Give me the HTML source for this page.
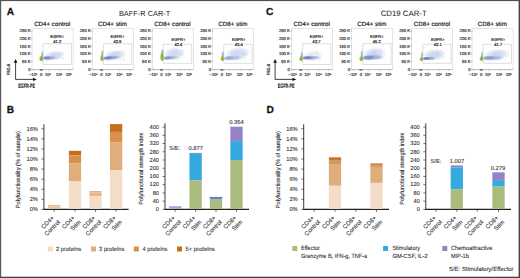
<!DOCTYPE html>
<html><head><meta charset="utf-8"><style>
html,body{margin:0;padding:0;background:#fff;}
body{width:520px;height:278px;overflow:hidden;position:relative;}
svg{position:absolute;left:0;top:0;font-family:"Liberation Sans", sans-serif;text-rendering:geometricPrecision;}
</style></head><body>
<svg width="520" height="278" viewBox="0 0 520 278">
<defs><filter id="blur1" x="-50%" y="-50%" width="200%" height="200%"><feGaussianBlur stdDeviation="0.6"/></filter><filter id="blur2" x="-10%" y="-10%" width="120%" height="120%"><feGaussianBlur stdDeviation="0.35"/></filter><radialGradient id="rg0"><stop offset="0" stop-color="#b6c6e8" stop-opacity="1"/><stop offset="0.55" stop-color="#b6c6e8" stop-opacity="0.75"/><stop offset="1" stop-color="#b6c6e8" stop-opacity="0"/></radialGradient><radialGradient id="rg1"><stop offset="0" stop-color="#5f78c2" stop-opacity="1"/><stop offset="0.55" stop-color="#5f78c2" stop-opacity="0.75"/><stop offset="1" stop-color="#5f78c2" stop-opacity="0"/></radialGradient><radialGradient id="rg2"><stop offset="0" stop-color="#8a98d4" stop-opacity="1"/><stop offset="0.55" stop-color="#8a98d4" stop-opacity="0.75"/><stop offset="1" stop-color="#8a98d4" stop-opacity="0"/></radialGradient><radialGradient id="rg3"><stop offset="0" stop-color="#dfe27a" stop-opacity="1"/><stop offset="0.55" stop-color="#dfe27a" stop-opacity="0.75"/><stop offset="1" stop-color="#dfe27a" stop-opacity="0"/></radialGradient><radialGradient id="rg4"><stop offset="0" stop-color="#dde0f2" stop-opacity="1"/><stop offset="0.55" stop-color="#dde0f2" stop-opacity="0.75"/><stop offset="1" stop-color="#dde0f2" stop-opacity="0"/></radialGradient><radialGradient id="rg5"><stop offset="0" stop-color="#5a6cbc" stop-opacity="1"/><stop offset="0.55" stop-color="#5a6cbc" stop-opacity="0.75"/><stop offset="1" stop-color="#5a6cbc" stop-opacity="0"/></radialGradient><radialGradient id="rg6"><stop offset="0" stop-color="#6a80c4" stop-opacity="1"/><stop offset="0.55" stop-color="#6a80c4" stop-opacity="0.75"/><stop offset="1" stop-color="#6a80c4" stop-opacity="0"/></radialGradient><radialGradient id="rg7"><stop offset="0" stop-color="#7a88cc" stop-opacity="1"/><stop offset="0.55" stop-color="#7a88cc" stop-opacity="0.75"/><stop offset="1" stop-color="#7a88cc" stop-opacity="0"/></radialGradient><radialGradient id="rg8"><stop offset="0" stop-color="#98a0c0" stop-opacity="1"/><stop offset="0.55" stop-color="#98a0c0" stop-opacity="0.75"/><stop offset="1" stop-color="#98a0c0" stop-opacity="0"/></radialGradient><radialGradient id="rg9"><stop offset="0" stop-color="#88a2d4" stop-opacity="1"/><stop offset="0.55" stop-color="#88a2d4" stop-opacity="0.75"/><stop offset="1" stop-color="#88a2d4" stop-opacity="0"/></radialGradient><radialGradient id="rg10"><stop offset="0" stop-color="#7890cc" stop-opacity="1"/><stop offset="0.55" stop-color="#7890cc" stop-opacity="0.75"/><stop offset="1" stop-color="#7890cc" stop-opacity="0"/></radialGradient></defs>
<rect x="0" y="0" width="520" height="278" fill="#fff"/>
<text x="6.8" y="15.35" font-size="10.2" text-anchor="start" fill="#111" stroke="#111" stroke-width="0.25" font-weight="bold">A</text>
<text x="266.0" y="15.3" font-size="10.2" text-anchor="start" fill="#111" stroke="#111" stroke-width="0.25" font-weight="bold">C</text>
<text x="144.6" y="15.6" font-size="7.4" text-anchor="middle" fill="#222">BAFF-R CAR-T</text>
<text x="403.7" y="15.6" font-size="7.8" text-anchor="middle" fill="#222">CD19 CAR-T</text>
<text x="6.7" y="112.8" font-size="10.2" text-anchor="start" fill="#111" stroke="#111" stroke-width="0.25" font-weight="bold">B</text>
<text x="266.5" y="112.8" font-size="10.2" text-anchor="start" fill="#111" stroke="#111" stroke-width="0.25" font-weight="bold">D</text>
<text x="52.3" y="26.1" font-size="6.2" text-anchor="middle" fill="#1a1a1a" stroke="#1a1a1a" stroke-width="0.18">CD4+ control</text>
<rect x="32.00" y="28.70" width="41.099999999999994" height="40.8" fill="none" stroke="#cfcfcf" stroke-width="0.55"/>
<text x="30.5" y="32.3" font-size="4.2" text-anchor="end" fill="#333" stroke="#333" stroke-width="0.18">250 K</text>
<line x1="31.10" y1="30.80" x2="32.50" y2="30.80" stroke="#666" stroke-width="0.45"/>
<text x="30.5" y="39.94" font-size="4.2" text-anchor="end" fill="#333" stroke="#333" stroke-width="0.18">200 K</text>
<line x1="31.10" y1="38.44" x2="32.50" y2="38.44" stroke="#666" stroke-width="0.45"/>
<text x="30.5" y="47.58" font-size="4.2" text-anchor="end" fill="#333" stroke="#333" stroke-width="0.18">150 K</text>
<line x1="31.10" y1="46.08" x2="32.50" y2="46.08" stroke="#666" stroke-width="0.45"/>
<text x="30.5" y="55.22" font-size="4.2" text-anchor="end" fill="#333" stroke="#333" stroke-width="0.18">100 K</text>
<line x1="31.10" y1="53.72" x2="32.50" y2="53.72" stroke="#666" stroke-width="0.45"/>
<text x="30.5" y="62.86" font-size="4.2" text-anchor="end" fill="#333" stroke="#333" stroke-width="0.18">50 K</text>
<line x1="31.10" y1="61.36" x2="32.50" y2="61.36" stroke="#666" stroke-width="0.45"/>
<text x="30.5" y="70.5" font-size="4.2" text-anchor="end" fill="#333" stroke="#333" stroke-width="0.18">0</text>
<line x1="31.10" y1="69.00" x2="32.50" y2="69.00" stroke="#666" stroke-width="0.45"/>
<text x="33.1" y="75.9" font-size="4.2" text-anchor="middle" fill="#333" stroke="#333" stroke-width="0.18">−10<tspan dy="-1.3" font-size="2.4">3</tspan></text>
<text x="41.2" y="75.9" font-size="4.2" text-anchor="middle" fill="#333" stroke="#333" stroke-width="0.18">0</text>
<text x="47.9" y="75.9" font-size="4.2" text-anchor="middle" fill="#333" stroke="#333" stroke-width="0.18">10<tspan dy="-1.3" font-size="2.4">3</tspan></text>
<text x="59.1" y="75.9" font-size="4.2" text-anchor="middle" fill="#333" stroke="#333" stroke-width="0.18">10<tspan dy="-1.3" font-size="2.4">4</tspan></text>
<text x="68.7" y="75.9" font-size="4.2" text-anchor="middle" fill="#333" stroke="#333" stroke-width="0.18">10<tspan dy="-1.3" font-size="2.4">5</tspan></text>
<line x1="32.00" y1="69.60" x2="73.10" y2="69.60" stroke="#b8b8b8" stroke-width="0.9"/>
<line x1="34.00" y1="69.50" x2="34.00" y2="70.80" stroke="#888" stroke-width="0.45"/>
<line x1="48.80" y1="69.50" x2="48.80" y2="70.80" stroke="#888" stroke-width="0.45"/>
<line x1="59.50" y1="69.50" x2="59.50" y2="70.80" stroke="#888" stroke-width="0.45"/>
<line x1="69.30" y1="69.50" x2="69.30" y2="70.80" stroke="#888" stroke-width="0.45"/>
<line x1="39.80" y1="70.00" x2="42.80" y2="70.00" stroke="#222" stroke-width="0.9"/>
<ellipse cx="54.55" cy="55.65" rx="10.75" ry="5.13" fill="url(#rg0)" opacity="0.7" transform="rotate(-7 54.55 55.65)"/>
<g opacity="0.45" filter="url(#blur2)"><circle cx="53.8" cy="55.0" r="0.45" fill="#8a9cd6"/><circle cx="63.8" cy="58.5" r="0.45" fill="#8a9cd6"/><circle cx="46.6" cy="60.2" r="0.45" fill="#a0b4e2"/><circle cx="47.7" cy="60.1" r="0.45" fill="#a4c4cc"/><circle cx="45.9" cy="59.5" r="0.45" fill="#8a9cd6"/><circle cx="62.5" cy="53.3" r="0.45" fill="#a4c4cc"/><circle cx="47.0" cy="58.9" r="0.45" fill="#8a9cd6"/><circle cx="44.6" cy="59.4" r="0.45" fill="#a0b4e2"/><circle cx="53.8" cy="54.3" r="0.45" fill="#98bce6"/><circle cx="60.6" cy="56.8" r="0.45" fill="#8a9cd6"/><circle cx="45.3" cy="58.5" r="0.45" fill="#b0a8dc"/><circle cx="55.7" cy="58.2" r="0.45" fill="#98bce6"/><circle cx="59.6" cy="56.6" r="0.45" fill="#a0b4e2"/><circle cx="48.5" cy="60.0" r="0.45" fill="#98bce6"/><circle cx="50.1" cy="58.2" r="0.45" fill="#98bce6"/><circle cx="63.2" cy="55.6" r="0.45" fill="#a0b4e2"/><circle cx="47.7" cy="58.2" r="0.45" fill="#a0b4e2"/><circle cx="53.0" cy="57.8" r="0.45" fill="#b0a8dc"/><circle cx="58.8" cy="52.6" r="0.45" fill="#b0a8dc"/><circle cx="53.3" cy="56.5" r="0.45" fill="#a0b4e2"/><circle cx="45.2" cy="58.2" r="0.45" fill="#8a9cd6"/><circle cx="45.5" cy="59.4" r="0.45" fill="#98bce6"/><circle cx="49.5" cy="57.3" r="0.45" fill="#a4c4cc"/><circle cx="62.2" cy="58.9" r="0.45" fill="#a0b4e2"/><circle cx="49.3" cy="56.6" r="0.45" fill="#8a9cd6"/><circle cx="60.9" cy="51.9" r="0.45" fill="#a4c4cc"/><circle cx="52.7" cy="57.0" r="0.45" fill="#a4c4cc"/><circle cx="46.4" cy="59.1" r="0.45" fill="#a0b4e2"/><circle cx="57.5" cy="54.2" r="0.45" fill="#a0b4e2"/><circle cx="47.5" cy="60.1" r="0.45" fill="#8a9cd6"/><circle cx="63.4" cy="57.5" r="0.45" fill="#8a9cd6"/><circle cx="55.0" cy="58.1" r="0.45" fill="#8a9cd6"/><circle cx="53.1" cy="59.7" r="0.45" fill="#a0b4e2"/><circle cx="56.9" cy="58.7" r="0.45" fill="#98bce6"/><circle cx="52.6" cy="59.6" r="0.45" fill="#a4c4cc"/><circle cx="63.0" cy="52.2" r="0.45" fill="#a0b4e2"/><circle cx="61.4" cy="52.9" r="0.45" fill="#b0a8dc"/><circle cx="51.2" cy="55.7" r="0.45" fill="#b0a8dc"/><circle cx="51.1" cy="59.0" r="0.45" fill="#8a9cd6"/><circle cx="59.6" cy="54.2" r="0.45" fill="#b0a8dc"/><circle cx="45.7" cy="58.6" r="0.45" fill="#b0a8dc"/><circle cx="52.1" cy="57.9" r="0.45" fill="#a0b4e2"/><circle cx="47.3" cy="58.7" r="0.45" fill="#a0b4e2"/><circle cx="48.9" cy="59.5" r="0.45" fill="#8a9cd6"/><circle cx="59.2" cy="55.3" r="0.45" fill="#a4c4cc"/><circle cx="58.0" cy="58.6" r="0.45" fill="#b0a8dc"/><circle cx="55.7" cy="57.2" r="0.45" fill="#b0a8dc"/><circle cx="62.6" cy="53.8" r="0.45" fill="#8a9cd6"/><circle cx="44.8" cy="59.0" r="0.45" fill="#b0a8dc"/><circle cx="57.3" cy="58.6" r="0.45" fill="#a4c4cc"/><circle cx="44.8" cy="60.0" r="0.45" fill="#a0b4e2"/><circle cx="51.3" cy="59.3" r="0.45" fill="#a4c4cc"/><circle cx="57.4" cy="58.0" r="0.45" fill="#a4c4cc"/><circle cx="62.1" cy="53.9" r="0.45" fill="#a4c4cc"/><circle cx="48.7" cy="59.1" r="0.45" fill="#98bce6"/><circle cx="49.3" cy="60.0" r="0.45" fill="#8a9cd6"/><circle cx="45.7" cy="60.0" r="0.45" fill="#a4c4cc"/><circle cx="62.4" cy="58.9" r="0.45" fill="#8a9cd6"/><circle cx="45.9" cy="59.6" r="0.45" fill="#8a9cd6"/><circle cx="54.9" cy="54.4" r="0.45" fill="#98bce6"/><circle cx="58.3" cy="58.1" r="0.45" fill="#b0a8dc"/><circle cx="46.3" cy="60.1" r="0.45" fill="#b0a8dc"/><circle cx="47.3" cy="59.1" r="0.45" fill="#a4c4cc"/><circle cx="58.9" cy="52.0" r="0.45" fill="#a4c4cc"/><circle cx="51.2" cy="57.9" r="0.45" fill="#a4c4cc"/><circle cx="58.4" cy="57.1" r="0.45" fill="#a4c4cc"/><circle cx="45.4" cy="58.3" r="0.45" fill="#98bce6"/><circle cx="45.6" cy="60.2" r="0.45" fill="#b0a8dc"/><circle cx="52.6" cy="56.3" r="0.45" fill="#8a9cd6"/><circle cx="56.7" cy="58.2" r="0.45" fill="#98bce6"/></g>
<ellipse cx="49.05" cy="57.85" rx="7.67" ry="2.18" fill="url(#rg1)" opacity="0.55"/>
<ellipse cx="46.23" cy="57.95" rx="4.73" ry="1.85" fill="url(#rg1)" opacity="0.8"/>
<ellipse cx="42.30" cy="54.55" rx="1.43" ry="4.02" fill="url(#rg2)" opacity="0.8"/>
<ellipse cx="39.80" cy="58.55" rx="1.4" ry="2.85" fill="url(#rg3)" opacity="0.7"/>
<path d="M41.45 55.20 C43.70 57.77 44.00 60.90 41.45 60.90 C38.90 60.90 39.20 57.77 41.45 55.20 Z" fill="#8ab536" filter="url(#blur1)"/>
<line x1="43.20" y1="43.70" x2="71.50" y2="43.70" stroke="#bdbdbd" stroke-width="0.5"/>
<line x1="43.20" y1="43.70" x2="43.20" y2="64.50" stroke="#bdbdbd" stroke-width="0.5"/>
<line x1="71.50" y1="43.70" x2="71.50" y2="64.50" stroke="#bdbdbd" stroke-width="0.5"/>
<line x1="43.20" y1="64.50" x2="71.50" y2="64.50" stroke="#bdbdbd" stroke-width="0.5"/>
<text x="57.2" y="38.1" font-size="4.1" text-anchor="middle" fill="#222" stroke="#222" stroke-width="0.18">EGFR+</text>
<text x="57.2" y="42.9" font-size="4.1" text-anchor="middle" fill="#222" stroke="#222" stroke-width="0.18">41.2</text>
<text x="311.69999999999993" y="26.1" font-size="6.2" text-anchor="middle" fill="#1a1a1a" stroke="#1a1a1a" stroke-width="0.18">CD4+ control</text>
<rect x="291.40" y="28.70" width="41.099999999999994" height="40.8" fill="none" stroke="#cfcfcf" stroke-width="0.55"/>
<text x="289.9" y="32.3" font-size="4.2" text-anchor="end" fill="#333" stroke="#333" stroke-width="0.18">250 K</text>
<line x1="290.50" y1="30.80" x2="291.90" y2="30.80" stroke="#666" stroke-width="0.45"/>
<text x="289.9" y="39.94" font-size="4.2" text-anchor="end" fill="#333" stroke="#333" stroke-width="0.18">200 K</text>
<line x1="290.50" y1="38.44" x2="291.90" y2="38.44" stroke="#666" stroke-width="0.45"/>
<text x="289.9" y="47.58" font-size="4.2" text-anchor="end" fill="#333" stroke="#333" stroke-width="0.18">150 K</text>
<line x1="290.50" y1="46.08" x2="291.90" y2="46.08" stroke="#666" stroke-width="0.45"/>
<text x="289.9" y="55.22" font-size="4.2" text-anchor="end" fill="#333" stroke="#333" stroke-width="0.18">100 K</text>
<line x1="290.50" y1="53.72" x2="291.90" y2="53.72" stroke="#666" stroke-width="0.45"/>
<text x="289.9" y="62.86" font-size="4.2" text-anchor="end" fill="#333" stroke="#333" stroke-width="0.18">50 K</text>
<line x1="290.50" y1="61.36" x2="291.90" y2="61.36" stroke="#666" stroke-width="0.45"/>
<text x="289.9" y="70.5" font-size="4.2" text-anchor="end" fill="#333" stroke="#333" stroke-width="0.18">0</text>
<line x1="290.50" y1="69.00" x2="291.90" y2="69.00" stroke="#666" stroke-width="0.45"/>
<text x="292.5" y="75.9" font-size="4.2" text-anchor="middle" fill="#333" stroke="#333" stroke-width="0.18">−10<tspan dy="-1.3" font-size="2.4">3</tspan></text>
<text x="300.59999999999997" y="75.9" font-size="4.2" text-anchor="middle" fill="#333" stroke="#333" stroke-width="0.18">0</text>
<text x="307.29999999999995" y="75.9" font-size="4.2" text-anchor="middle" fill="#333" stroke="#333" stroke-width="0.18">10<tspan dy="-1.3" font-size="2.4">3</tspan></text>
<text x="318.5" y="75.9" font-size="4.2" text-anchor="middle" fill="#333" stroke="#333" stroke-width="0.18">10<tspan dy="-1.3" font-size="2.4">4</tspan></text>
<text x="328.09999999999997" y="75.9" font-size="4.2" text-anchor="middle" fill="#333" stroke="#333" stroke-width="0.18">10<tspan dy="-1.3" font-size="2.4">5</tspan></text>
<line x1="291.40" y1="69.60" x2="332.50" y2="69.60" stroke="#b8b8b8" stroke-width="0.9"/>
<line x1="293.40" y1="69.50" x2="293.40" y2="70.80" stroke="#888" stroke-width="0.45"/>
<line x1="308.20" y1="69.50" x2="308.20" y2="70.80" stroke="#888" stroke-width="0.45"/>
<line x1="318.90" y1="69.50" x2="318.90" y2="70.80" stroke="#888" stroke-width="0.45"/>
<line x1="328.70" y1="69.50" x2="328.70" y2="70.80" stroke="#888" stroke-width="0.45"/>
<line x1="299.20" y1="70.00" x2="302.20" y2="70.00" stroke="#222" stroke-width="0.9"/>
<ellipse cx="312.85" cy="55.20" rx="10.42" ry="5.62" fill="url(#rg4)" opacity="0.7" transform="rotate(-7 312.85 55.20)"/>
<g opacity="0.45" filter="url(#blur2)"><circle cx="304.3" cy="59.0" r="0.45" fill="#8a9cd6"/><circle cx="312.1" cy="56.1" r="0.45" fill="#98bce6"/><circle cx="305.5" cy="59.7" r="0.45" fill="#8a9cd6"/><circle cx="317.7" cy="52.6" r="0.45" fill="#98bce6"/><circle cx="308.2" cy="59.1" r="0.45" fill="#8a9cd6"/><circle cx="316.5" cy="52.5" r="0.45" fill="#b0a8dc"/><circle cx="319.8" cy="56.4" r="0.45" fill="#a4c4cc"/><circle cx="317.3" cy="59.4" r="0.45" fill="#a4c4cc"/><circle cx="311.2" cy="56.3" r="0.45" fill="#a0b4e2"/><circle cx="321.5" cy="59.0" r="0.45" fill="#a0b4e2"/><circle cx="311.1" cy="59.3" r="0.45" fill="#b0a8dc"/><circle cx="317.4" cy="57.6" r="0.45" fill="#98bce6"/><circle cx="310.9" cy="57.5" r="0.45" fill="#a0b4e2"/><circle cx="308.7" cy="56.6" r="0.45" fill="#a0b4e2"/><circle cx="309.5" cy="55.8" r="0.45" fill="#b0a8dc"/><circle cx="320.5" cy="56.8" r="0.45" fill="#a0b4e2"/><circle cx="319.9" cy="56.1" r="0.45" fill="#b0a8dc"/><circle cx="307.5" cy="59.9" r="0.45" fill="#b0a8dc"/><circle cx="314.1" cy="60.2" r="0.45" fill="#8a9cd6"/><circle cx="310.8" cy="55.8" r="0.45" fill="#a0b4e2"/><circle cx="318.1" cy="58.5" r="0.45" fill="#a4c4cc"/><circle cx="306.0" cy="60.0" r="0.45" fill="#98bce6"/><circle cx="314.8" cy="56.5" r="0.45" fill="#98bce6"/><circle cx="315.7" cy="53.8" r="0.45" fill="#98bce6"/><circle cx="318.2" cy="59.9" r="0.45" fill="#b0a8dc"/><circle cx="318.0" cy="53.8" r="0.45" fill="#a0b4e2"/><circle cx="304.1" cy="60.0" r="0.45" fill="#98bce6"/><circle cx="319.9" cy="59.1" r="0.45" fill="#a4c4cc"/><circle cx="319.8" cy="60.3" r="0.45" fill="#a0b4e2"/><circle cx="306.9" cy="56.0" r="0.45" fill="#98bce6"/><circle cx="313.3" cy="59.7" r="0.45" fill="#a4c4cc"/><circle cx="303.7" cy="59.0" r="0.45" fill="#98bce6"/><circle cx="304.9" cy="58.7" r="0.45" fill="#8a9cd6"/><circle cx="308.7" cy="60.2" r="0.45" fill="#a0b4e2"/><circle cx="309.0" cy="58.3" r="0.45" fill="#98bce6"/><circle cx="311.8" cy="57.5" r="0.45" fill="#a4c4cc"/><circle cx="312.1" cy="57.0" r="0.45" fill="#a4c4cc"/><circle cx="313.1" cy="60.1" r="0.45" fill="#b0a8dc"/><circle cx="317.9" cy="56.7" r="0.45" fill="#b0a8dc"/><circle cx="312.5" cy="54.7" r="0.45" fill="#b0a8dc"/><circle cx="310.1" cy="58.4" r="0.45" fill="#b0a8dc"/><circle cx="322.2" cy="52.9" r="0.45" fill="#a4c4cc"/><circle cx="303.4" cy="59.6" r="0.45" fill="#8a9cd6"/><circle cx="308.4" cy="56.2" r="0.45" fill="#98bce6"/><circle cx="318.3" cy="57.5" r="0.45" fill="#a0b4e2"/><circle cx="307.0" cy="58.7" r="0.45" fill="#a4c4cc"/><circle cx="305.2" cy="58.3" r="0.45" fill="#8a9cd6"/><circle cx="303.3" cy="59.2" r="0.45" fill="#8a9cd6"/><circle cx="306.0" cy="57.8" r="0.45" fill="#98bce6"/><circle cx="315.3" cy="52.4" r="0.45" fill="#a0b4e2"/><circle cx="322.0" cy="53.2" r="0.45" fill="#98bce6"/><circle cx="318.2" cy="53.3" r="0.45" fill="#a4c4cc"/><circle cx="311.3" cy="57.3" r="0.45" fill="#b0a8dc"/><circle cx="310.6" cy="54.7" r="0.45" fill="#a4c4cc"/><circle cx="320.0" cy="59.1" r="0.45" fill="#a4c4cc"/><circle cx="316.6" cy="55.0" r="0.45" fill="#a4c4cc"/><circle cx="310.2" cy="60.3" r="0.45" fill="#b0a8dc"/><circle cx="308.8" cy="57.0" r="0.45" fill="#8a9cd6"/><circle cx="310.8" cy="57.5" r="0.45" fill="#a4c4cc"/><circle cx="304.2" cy="59.6" r="0.45" fill="#98bce6"/><circle cx="310.2" cy="57.0" r="0.45" fill="#a4c4cc"/><circle cx="305.0" cy="58.7" r="0.45" fill="#b0a8dc"/><circle cx="319.9" cy="60.1" r="0.45" fill="#a0b4e2"/><circle cx="320.6" cy="57.0" r="0.45" fill="#a0b4e2"/><circle cx="305.9" cy="56.7" r="0.45" fill="#98bce6"/><circle cx="311.3" cy="60.2" r="0.45" fill="#b0a8dc"/><circle cx="310.7" cy="59.7" r="0.45" fill="#98bce6"/><circle cx="312.6" cy="56.5" r="0.45" fill="#b0a8dc"/><circle cx="316.4" cy="55.6" r="0.45" fill="#98bce6"/><circle cx="319.1" cy="56.2" r="0.45" fill="#98bce6"/></g>
<ellipse cx="310.80" cy="57.75" rx="10.30" ry="2.30" fill="url(#rg5)" opacity="0.55"/>
<ellipse cx="306.92" cy="57.85" rx="6.18" ry="1.96" fill="url(#rg5)" opacity="0.8"/>
<ellipse cx="301.70" cy="54.95" rx="1.43" ry="4.02" fill="url(#rg2)" opacity="0.8"/>
<ellipse cx="299.90" cy="58.75" rx="1.4" ry="2.65" fill="url(#rg3)" opacity="0.7"/>
<path d="M301.20 55.60 C303.10 57.98 303.40 60.90 301.20 60.90 C299.00 60.90 299.30 57.98 301.20 55.60 Z" fill="#8ab536" filter="url(#blur1)"/>
<line x1="302.60" y1="43.70" x2="330.90" y2="43.70" stroke="#bdbdbd" stroke-width="0.5"/>
<line x1="302.60" y1="43.70" x2="302.60" y2="64.50" stroke="#bdbdbd" stroke-width="0.5"/>
<line x1="330.90" y1="43.70" x2="330.90" y2="64.50" stroke="#bdbdbd" stroke-width="0.5"/>
<line x1="302.60" y1="64.50" x2="330.90" y2="64.50" stroke="#bdbdbd" stroke-width="0.5"/>
<text x="316.59999999999997" y="38.1" font-size="4.1" text-anchor="middle" fill="#222" stroke="#222" stroke-width="0.18">EGFR+</text>
<text x="316.59999999999997" y="42.9" font-size="4.1" text-anchor="middle" fill="#222" stroke="#222" stroke-width="0.18">43.7</text>
<text x="112.5" y="26.1" font-size="6.2" text-anchor="middle" fill="#1a1a1a" stroke="#1a1a1a" stroke-width="0.18">CD4+ stim</text>
<rect x="92.20" y="28.70" width="41.099999999999994" height="40.8" fill="none" stroke="#cfcfcf" stroke-width="0.55"/>
<text x="90.7" y="32.3" font-size="4.2" text-anchor="end" fill="#333" stroke="#333" stroke-width="0.18">250 K</text>
<line x1="91.30" y1="30.80" x2="92.70" y2="30.80" stroke="#666" stroke-width="0.45"/>
<text x="90.7" y="39.94" font-size="4.2" text-anchor="end" fill="#333" stroke="#333" stroke-width="0.18">200 K</text>
<line x1="91.30" y1="38.44" x2="92.70" y2="38.44" stroke="#666" stroke-width="0.45"/>
<text x="90.7" y="47.58" font-size="4.2" text-anchor="end" fill="#333" stroke="#333" stroke-width="0.18">150 K</text>
<line x1="91.30" y1="46.08" x2="92.70" y2="46.08" stroke="#666" stroke-width="0.45"/>
<text x="90.7" y="55.22" font-size="4.2" text-anchor="end" fill="#333" stroke="#333" stroke-width="0.18">100 K</text>
<line x1="91.30" y1="53.72" x2="92.70" y2="53.72" stroke="#666" stroke-width="0.45"/>
<text x="90.7" y="62.86" font-size="4.2" text-anchor="end" fill="#333" stroke="#333" stroke-width="0.18">50 K</text>
<line x1="91.30" y1="61.36" x2="92.70" y2="61.36" stroke="#666" stroke-width="0.45"/>
<text x="90.7" y="70.5" font-size="4.2" text-anchor="end" fill="#333" stroke="#333" stroke-width="0.18">0</text>
<line x1="91.30" y1="69.00" x2="92.70" y2="69.00" stroke="#666" stroke-width="0.45"/>
<text x="93.3" y="75.9" font-size="4.2" text-anchor="middle" fill="#333" stroke="#333" stroke-width="0.18">−10<tspan dy="-1.3" font-size="2.4">3</tspan></text>
<text x="101.4" y="75.9" font-size="4.2" text-anchor="middle" fill="#333" stroke="#333" stroke-width="0.18">0</text>
<text x="108.10000000000001" y="75.9" font-size="4.2" text-anchor="middle" fill="#333" stroke="#333" stroke-width="0.18">10<tspan dy="-1.3" font-size="2.4">3</tspan></text>
<text x="119.30000000000001" y="75.9" font-size="4.2" text-anchor="middle" fill="#333" stroke="#333" stroke-width="0.18">10<tspan dy="-1.3" font-size="2.4">4</tspan></text>
<text x="128.9" y="75.9" font-size="4.2" text-anchor="middle" fill="#333" stroke="#333" stroke-width="0.18">10<tspan dy="-1.3" font-size="2.4">5</tspan></text>
<line x1="92.20" y1="69.60" x2="133.30" y2="69.60" stroke="#b8b8b8" stroke-width="0.9"/>
<line x1="94.20" y1="69.50" x2="94.20" y2="70.80" stroke="#888" stroke-width="0.45"/>
<line x1="109.00" y1="69.50" x2="109.00" y2="70.80" stroke="#888" stroke-width="0.45"/>
<line x1="119.70" y1="69.50" x2="119.70" y2="70.80" stroke="#888" stroke-width="0.45"/>
<line x1="129.50" y1="69.50" x2="129.50" y2="70.80" stroke="#888" stroke-width="0.45"/>
<line x1="100.00" y1="70.00" x2="103.00" y2="70.00" stroke="#222" stroke-width="0.9"/>
<ellipse cx="115.05" cy="55.20" rx="11.18" ry="5.62" fill="url(#rg0)" opacity="0.7" transform="rotate(-7 115.05 55.20)"/>
<g opacity="0.45" filter="url(#blur2)"><circle cx="116.2" cy="53.8" r="0.45" fill="#8a9cd6"/><circle cx="107.1" cy="58.2" r="0.45" fill="#b0a8dc"/><circle cx="104.8" cy="58.0" r="0.45" fill="#98bce6"/><circle cx="107.2" cy="57.9" r="0.45" fill="#a4c4cc"/><circle cx="120.3" cy="59.9" r="0.45" fill="#b0a8dc"/><circle cx="107.9" cy="57.7" r="0.45" fill="#8a9cd6"/><circle cx="104.8" cy="59.5" r="0.45" fill="#8a9cd6"/><circle cx="116.8" cy="53.7" r="0.45" fill="#8a9cd6"/><circle cx="125.2" cy="55.3" r="0.45" fill="#8a9cd6"/><circle cx="108.9" cy="58.2" r="0.45" fill="#98bce6"/><circle cx="120.0" cy="55.3" r="0.45" fill="#a0b4e2"/><circle cx="124.1" cy="60.0" r="0.45" fill="#98bce6"/><circle cx="113.5" cy="58.7" r="0.45" fill="#b0a8dc"/><circle cx="124.3" cy="50.7" r="0.45" fill="#a4c4cc"/><circle cx="111.9" cy="55.4" r="0.45" fill="#a0b4e2"/><circle cx="108.0" cy="60.1" r="0.45" fill="#8a9cd6"/><circle cx="112.9" cy="59.1" r="0.45" fill="#b0a8dc"/><circle cx="120.4" cy="60.4" r="0.45" fill="#98bce6"/><circle cx="104.7" cy="59.5" r="0.45" fill="#8a9cd6"/><circle cx="110.2" cy="55.4" r="0.45" fill="#b0a8dc"/><circle cx="111.1" cy="59.1" r="0.45" fill="#a4c4cc"/><circle cx="118.4" cy="60.2" r="0.45" fill="#a4c4cc"/><circle cx="123.3" cy="59.1" r="0.45" fill="#a4c4cc"/><circle cx="122.1" cy="52.3" r="0.45" fill="#a0b4e2"/><circle cx="113.1" cy="58.1" r="0.45" fill="#98bce6"/><circle cx="119.3" cy="52.5" r="0.45" fill="#98bce6"/><circle cx="106.6" cy="60.3" r="0.45" fill="#98bce6"/><circle cx="105.9" cy="58.2" r="0.45" fill="#a4c4cc"/><circle cx="104.9" cy="59.6" r="0.45" fill="#b0a8dc"/><circle cx="107.7" cy="60.0" r="0.45" fill="#a0b4e2"/><circle cx="122.0" cy="58.9" r="0.45" fill="#b0a8dc"/><circle cx="105.4" cy="59.2" r="0.45" fill="#8a9cd6"/><circle cx="106.9" cy="59.2" r="0.45" fill="#8a9cd6"/><circle cx="124.0" cy="57.0" r="0.45" fill="#b0a8dc"/><circle cx="118.7" cy="53.3" r="0.45" fill="#b0a8dc"/><circle cx="123.9" cy="59.3" r="0.45" fill="#8a9cd6"/><circle cx="114.6" cy="58.7" r="0.45" fill="#a0b4e2"/><circle cx="109.6" cy="59.9" r="0.45" fill="#a0b4e2"/><circle cx="108.7" cy="58.6" r="0.45" fill="#8a9cd6"/><circle cx="123.6" cy="52.0" r="0.45" fill="#a4c4cc"/><circle cx="105.0" cy="59.8" r="0.45" fill="#8a9cd6"/><circle cx="110.7" cy="59.8" r="0.45" fill="#a4c4cc"/><circle cx="124.8" cy="60.2" r="0.45" fill="#a4c4cc"/><circle cx="105.6" cy="58.6" r="0.45" fill="#a0b4e2"/><circle cx="108.2" cy="59.2" r="0.45" fill="#98bce6"/><circle cx="118.4" cy="59.0" r="0.45" fill="#a4c4cc"/><circle cx="105.7" cy="57.8" r="0.45" fill="#a4c4cc"/><circle cx="111.3" cy="57.1" r="0.45" fill="#a0b4e2"/><circle cx="114.1" cy="56.4" r="0.45" fill="#b0a8dc"/><circle cx="111.9" cy="55.4" r="0.45" fill="#a0b4e2"/><circle cx="114.6" cy="52.8" r="0.45" fill="#a0b4e2"/><circle cx="111.7" cy="57.7" r="0.45" fill="#b0a8dc"/><circle cx="104.9" cy="59.4" r="0.45" fill="#98bce6"/><circle cx="112.9" cy="59.9" r="0.45" fill="#8a9cd6"/><circle cx="123.9" cy="50.7" r="0.45" fill="#b0a8dc"/><circle cx="115.2" cy="59.0" r="0.45" fill="#98bce6"/><circle cx="109.9" cy="59.9" r="0.45" fill="#98bce6"/><circle cx="123.9" cy="52.0" r="0.45" fill="#a0b4e2"/><circle cx="107.2" cy="60.0" r="0.45" fill="#a0b4e2"/><circle cx="106.3" cy="58.8" r="0.45" fill="#b0a8dc"/><circle cx="109.1" cy="58.5" r="0.45" fill="#98bce6"/><circle cx="108.4" cy="57.1" r="0.45" fill="#a4c4cc"/><circle cx="109.5" cy="57.9" r="0.45" fill="#a0b4e2"/><circle cx="108.6" cy="57.7" r="0.45" fill="#a4c4cc"/><circle cx="123.5" cy="55.1" r="0.45" fill="#98bce6"/><circle cx="112.3" cy="55.4" r="0.45" fill="#a4c4cc"/><circle cx="113.3" cy="55.8" r="0.45" fill="#a4c4cc"/><circle cx="110.3" cy="57.9" r="0.45" fill="#b0a8dc"/><circle cx="114.8" cy="54.8" r="0.45" fill="#a0b4e2"/><circle cx="120.9" cy="55.9" r="0.45" fill="#a4c4cc"/></g>
<ellipse cx="111.20" cy="57.75" rx="10.08" ry="2.30" fill="url(#rg1)" opacity="0.55" transform="rotate(-6 111.20 57.75)"/>
<ellipse cx="107.41" cy="57.85" rx="6.06" ry="1.96" fill="url(#rg1)" opacity="0.8" transform="rotate(-3.0 107.41 57.85)"/>
<ellipse cx="102.30" cy="53.45" rx="1.43" ry="3.79" fill="url(#rg2)" opacity="0.8"/>
<ellipse cx="100.90" cy="57.90" rx="1.4" ry="3.50" fill="url(#rg3)" opacity="0.7"/>
<path d="M102.00 53.90 C103.70 57.05 104.00 60.90 102.00 60.90 C100.00 60.90 100.30 57.05 102.00 53.90 Z" fill="#8ab536" filter="url(#blur1)"/>
<line x1="103.40" y1="43.70" x2="131.70" y2="43.70" stroke="#bdbdbd" stroke-width="0.5"/>
<line x1="103.40" y1="43.70" x2="103.40" y2="64.50" stroke="#bdbdbd" stroke-width="0.5"/>
<line x1="131.70" y1="43.70" x2="131.70" y2="64.50" stroke="#bdbdbd" stroke-width="0.5"/>
<line x1="103.40" y1="64.50" x2="131.70" y2="64.50" stroke="#bdbdbd" stroke-width="0.5"/>
<text x="117.4" y="38.1" font-size="4.1" text-anchor="middle" fill="#222" stroke="#222" stroke-width="0.18">EGFR+</text>
<text x="117.4" y="42.9" font-size="4.1" text-anchor="middle" fill="#222" stroke="#222" stroke-width="0.18">43.9</text>
<text x="371.8999999999999" y="26.1" font-size="6.2" text-anchor="middle" fill="#1a1a1a" stroke="#1a1a1a" stroke-width="0.18">CD4+ stim</text>
<rect x="351.60" y="28.70" width="41.099999999999994" height="40.8" fill="none" stroke="#cfcfcf" stroke-width="0.55"/>
<text x="350.09999999999997" y="32.3" font-size="4.2" text-anchor="end" fill="#333" stroke="#333" stroke-width="0.18">250 K</text>
<line x1="350.70" y1="30.80" x2="352.10" y2="30.80" stroke="#666" stroke-width="0.45"/>
<text x="350.09999999999997" y="39.94" font-size="4.2" text-anchor="end" fill="#333" stroke="#333" stroke-width="0.18">200 K</text>
<line x1="350.70" y1="38.44" x2="352.10" y2="38.44" stroke="#666" stroke-width="0.45"/>
<text x="350.09999999999997" y="47.58" font-size="4.2" text-anchor="end" fill="#333" stroke="#333" stroke-width="0.18">150 K</text>
<line x1="350.70" y1="46.08" x2="352.10" y2="46.08" stroke="#666" stroke-width="0.45"/>
<text x="350.09999999999997" y="55.22" font-size="4.2" text-anchor="end" fill="#333" stroke="#333" stroke-width="0.18">100 K</text>
<line x1="350.70" y1="53.72" x2="352.10" y2="53.72" stroke="#666" stroke-width="0.45"/>
<text x="350.09999999999997" y="62.86" font-size="4.2" text-anchor="end" fill="#333" stroke="#333" stroke-width="0.18">50 K</text>
<line x1="350.70" y1="61.36" x2="352.10" y2="61.36" stroke="#666" stroke-width="0.45"/>
<text x="350.09999999999997" y="70.5" font-size="4.2" text-anchor="end" fill="#333" stroke="#333" stroke-width="0.18">0</text>
<line x1="350.70" y1="69.00" x2="352.10" y2="69.00" stroke="#666" stroke-width="0.45"/>
<text x="352.7" y="75.9" font-size="4.2" text-anchor="middle" fill="#333" stroke="#333" stroke-width="0.18">−10<tspan dy="-1.3" font-size="2.4">3</tspan></text>
<text x="360.79999999999995" y="75.9" font-size="4.2" text-anchor="middle" fill="#333" stroke="#333" stroke-width="0.18">0</text>
<text x="367.49999999999994" y="75.9" font-size="4.2" text-anchor="middle" fill="#333" stroke="#333" stroke-width="0.18">10<tspan dy="-1.3" font-size="2.4">3</tspan></text>
<text x="378.7" y="75.9" font-size="4.2" text-anchor="middle" fill="#333" stroke="#333" stroke-width="0.18">10<tspan dy="-1.3" font-size="2.4">4</tspan></text>
<text x="388.29999999999995" y="75.9" font-size="4.2" text-anchor="middle" fill="#333" stroke="#333" stroke-width="0.18">10<tspan dy="-1.3" font-size="2.4">5</tspan></text>
<line x1="351.60" y1="69.60" x2="392.70" y2="69.60" stroke="#b8b8b8" stroke-width="0.9"/>
<line x1="353.60" y1="69.50" x2="353.60" y2="70.80" stroke="#888" stroke-width="0.45"/>
<line x1="368.40" y1="69.50" x2="368.40" y2="70.80" stroke="#888" stroke-width="0.45"/>
<line x1="379.10" y1="69.50" x2="379.10" y2="70.80" stroke="#888" stroke-width="0.45"/>
<line x1="388.90" y1="69.50" x2="388.90" y2="70.80" stroke="#888" stroke-width="0.45"/>
<line x1="359.40" y1="70.00" x2="362.40" y2="70.00" stroke="#222" stroke-width="0.9"/>
<ellipse cx="374.35" cy="53.75" rx="11.61" ry="6.75" fill="url(#rg0)" opacity="0.7" transform="rotate(-7 374.35 53.75)"/>
<g opacity="0.45" filter="url(#blur2)"><circle cx="365.4" cy="58.9" r="0.45" fill="#8a9cd6"/><circle cx="367.5" cy="55.9" r="0.45" fill="#8a9cd6"/><circle cx="381.6" cy="58.7" r="0.45" fill="#a4c4cc"/><circle cx="373.4" cy="55.1" r="0.45" fill="#a0b4e2"/><circle cx="370.8" cy="53.0" r="0.45" fill="#8a9cd6"/><circle cx="382.4" cy="54.4" r="0.45" fill="#a0b4e2"/><circle cx="364.2" cy="58.4" r="0.45" fill="#8a9cd6"/><circle cx="368.9" cy="59.8" r="0.45" fill="#a0b4e2"/><circle cx="384.9" cy="58.3" r="0.45" fill="#a0b4e2"/><circle cx="370.2" cy="57.0" r="0.45" fill="#98bce6"/><circle cx="372.7" cy="58.1" r="0.45" fill="#a4c4cc"/><circle cx="384.9" cy="58.3" r="0.45" fill="#a4c4cc"/><circle cx="375.4" cy="51.5" r="0.45" fill="#8a9cd6"/><circle cx="369.5" cy="58.8" r="0.45" fill="#98bce6"/><circle cx="380.5" cy="48.2" r="0.45" fill="#b0a8dc"/><circle cx="372.5" cy="56.2" r="0.45" fill="#a4c4cc"/><circle cx="363.9" cy="57.3" r="0.45" fill="#b0a8dc"/><circle cx="374.0" cy="53.2" r="0.45" fill="#8a9cd6"/><circle cx="370.7" cy="53.6" r="0.45" fill="#a4c4cc"/><circle cx="377.2" cy="58.7" r="0.45" fill="#8a9cd6"/><circle cx="371.6" cy="54.0" r="0.45" fill="#a4c4cc"/><circle cx="372.9" cy="53.0" r="0.45" fill="#a4c4cc"/><circle cx="375.9" cy="58.6" r="0.45" fill="#8a9cd6"/><circle cx="372.6" cy="55.9" r="0.45" fill="#a0b4e2"/><circle cx="370.5" cy="59.7" r="0.45" fill="#b0a8dc"/><circle cx="384.9" cy="52.9" r="0.45" fill="#b0a8dc"/><circle cx="384.3" cy="49.1" r="0.45" fill="#b0a8dc"/><circle cx="376.0" cy="57.7" r="0.45" fill="#8a9cd6"/><circle cx="364.9" cy="57.7" r="0.45" fill="#b0a8dc"/><circle cx="371.2" cy="56.0" r="0.45" fill="#98bce6"/><circle cx="370.9" cy="56.8" r="0.45" fill="#8a9cd6"/><circle cx="380.6" cy="58.8" r="0.45" fill="#a4c4cc"/><circle cx="366.8" cy="57.3" r="0.45" fill="#a0b4e2"/><circle cx="382.7" cy="58.1" r="0.45" fill="#a0b4e2"/><circle cx="375.7" cy="54.4" r="0.45" fill="#98bce6"/><circle cx="368.6" cy="58.8" r="0.45" fill="#98bce6"/><circle cx="373.2" cy="53.3" r="0.45" fill="#a4c4cc"/><circle cx="363.7" cy="59.2" r="0.45" fill="#8a9cd6"/><circle cx="377.8" cy="57.5" r="0.45" fill="#b0a8dc"/><circle cx="365.4" cy="58.3" r="0.45" fill="#98bce6"/><circle cx="365.7" cy="59.5" r="0.45" fill="#a0b4e2"/><circle cx="367.0" cy="57.6" r="0.45" fill="#8a9cd6"/><circle cx="380.1" cy="50.7" r="0.45" fill="#a4c4cc"/><circle cx="363.6" cy="58.5" r="0.45" fill="#a4c4cc"/><circle cx="368.6" cy="57.5" r="0.45" fill="#a0b4e2"/><circle cx="378.7" cy="58.5" r="0.45" fill="#a0b4e2"/><circle cx="365.0" cy="58.1" r="0.45" fill="#98bce6"/><circle cx="375.4" cy="51.1" r="0.45" fill="#8a9cd6"/><circle cx="364.6" cy="58.3" r="0.45" fill="#8a9cd6"/><circle cx="368.7" cy="59.6" r="0.45" fill="#8a9cd6"/><circle cx="370.6" cy="56.3" r="0.45" fill="#a0b4e2"/><circle cx="366.0" cy="58.5" r="0.45" fill="#98bce6"/><circle cx="369.1" cy="59.2" r="0.45" fill="#98bce6"/><circle cx="375.9" cy="58.9" r="0.45" fill="#98bce6"/><circle cx="363.6" cy="59.8" r="0.45" fill="#8a9cd6"/><circle cx="380.4" cy="58.9" r="0.45" fill="#a0b4e2"/><circle cx="385.1" cy="53.6" r="0.45" fill="#a0b4e2"/><circle cx="371.1" cy="56.9" r="0.45" fill="#b0a8dc"/><circle cx="363.7" cy="57.9" r="0.45" fill="#a0b4e2"/><circle cx="377.6" cy="55.9" r="0.45" fill="#98bce6"/><circle cx="363.6" cy="59.6" r="0.45" fill="#98bce6"/><circle cx="365.9" cy="58.2" r="0.45" fill="#b0a8dc"/><circle cx="372.1" cy="53.4" r="0.45" fill="#a0b4e2"/><circle cx="368.3" cy="59.9" r="0.45" fill="#a4c4cc"/><circle cx="376.1" cy="54.8" r="0.45" fill="#98bce6"/><circle cx="384.8" cy="54.9" r="0.45" fill="#8a9cd6"/><circle cx="365.2" cy="58.0" r="0.45" fill="#a4c4cc"/><circle cx="379.1" cy="56.1" r="0.45" fill="#98bce6"/><circle cx="365.7" cy="56.4" r="0.45" fill="#b0a8dc"/><circle cx="374.9" cy="53.9" r="0.45" fill="#b0a8dc"/></g>
<ellipse cx="372.75" cy="57.50" rx="12.04" ry="3.02" fill="url(#rg6)" opacity="0.55" transform="rotate(-3 372.75 57.50)"/>
<ellipse cx="368.17" cy="57.60" rx="7.14" ry="2.69" fill="url(#rg6)" opacity="0.8" transform="rotate(-1.5 368.17 57.60)"/>
<ellipse cx="361.80" cy="54.30" rx="1.54" ry="4.73" fill="url(#rg2)" opacity="0.8"/>
<ellipse cx="359.90" cy="58.75" rx="1.4" ry="2.65" fill="url(#rg3)" opacity="0.7"/>
<path d="M361.40 55.60 C363.50 57.98 363.80 60.90 361.40 60.90 C359.00 60.90 359.30 57.98 361.40 55.60 Z" fill="#8ab536" filter="url(#blur1)"/>
<line x1="362.80" y1="43.70" x2="391.10" y2="43.70" stroke="#bdbdbd" stroke-width="0.5"/>
<line x1="362.80" y1="43.70" x2="362.80" y2="64.50" stroke="#bdbdbd" stroke-width="0.5"/>
<line x1="391.10" y1="43.70" x2="391.10" y2="64.50" stroke="#bdbdbd" stroke-width="0.5"/>
<line x1="362.80" y1="64.50" x2="391.10" y2="64.50" stroke="#bdbdbd" stroke-width="0.5"/>
<text x="376.79999999999995" y="38.1" font-size="4.1" text-anchor="middle" fill="#222" stroke="#222" stroke-width="0.18">EGFR+</text>
<text x="376.79999999999995" y="42.9" font-size="4.1" text-anchor="middle" fill="#222" stroke="#222" stroke-width="0.18">45.2</text>
<text x="172.5" y="26.1" font-size="6.2" text-anchor="middle" fill="#1a1a1a" stroke="#1a1a1a" stroke-width="0.18">CD8+ control</text>
<rect x="152.20" y="28.70" width="41.099999999999994" height="40.8" fill="none" stroke="#cfcfcf" stroke-width="0.55"/>
<text x="150.7" y="32.3" font-size="4.2" text-anchor="end" fill="#333" stroke="#333" stroke-width="0.18">250 K</text>
<line x1="151.30" y1="30.80" x2="152.70" y2="30.80" stroke="#666" stroke-width="0.45"/>
<text x="150.7" y="39.94" font-size="4.2" text-anchor="end" fill="#333" stroke="#333" stroke-width="0.18">200 K</text>
<line x1="151.30" y1="38.44" x2="152.70" y2="38.44" stroke="#666" stroke-width="0.45"/>
<text x="150.7" y="47.58" font-size="4.2" text-anchor="end" fill="#333" stroke="#333" stroke-width="0.18">150 K</text>
<line x1="151.30" y1="46.08" x2="152.70" y2="46.08" stroke="#666" stroke-width="0.45"/>
<text x="150.7" y="55.22" font-size="4.2" text-anchor="end" fill="#333" stroke="#333" stroke-width="0.18">100 K</text>
<line x1="151.30" y1="53.72" x2="152.70" y2="53.72" stroke="#666" stroke-width="0.45"/>
<text x="150.7" y="62.86" font-size="4.2" text-anchor="end" fill="#333" stroke="#333" stroke-width="0.18">50 K</text>
<line x1="151.30" y1="61.36" x2="152.70" y2="61.36" stroke="#666" stroke-width="0.45"/>
<text x="150.7" y="70.5" font-size="4.2" text-anchor="end" fill="#333" stroke="#333" stroke-width="0.18">0</text>
<line x1="151.30" y1="69.00" x2="152.70" y2="69.00" stroke="#666" stroke-width="0.45"/>
<text x="153.29999999999998" y="75.9" font-size="4.2" text-anchor="middle" fill="#333" stroke="#333" stroke-width="0.18">−10<tspan dy="-1.3" font-size="2.4">3</tspan></text>
<text x="161.39999999999998" y="75.9" font-size="4.2" text-anchor="middle" fill="#333" stroke="#333" stroke-width="0.18">0</text>
<text x="168.1" y="75.9" font-size="4.2" text-anchor="middle" fill="#333" stroke="#333" stroke-width="0.18">10<tspan dy="-1.3" font-size="2.4">3</tspan></text>
<text x="179.29999999999998" y="75.9" font-size="4.2" text-anchor="middle" fill="#333" stroke="#333" stroke-width="0.18">10<tspan dy="-1.3" font-size="2.4">4</tspan></text>
<text x="188.89999999999998" y="75.9" font-size="4.2" text-anchor="middle" fill="#333" stroke="#333" stroke-width="0.18">10<tspan dy="-1.3" font-size="2.4">5</tspan></text>
<line x1="152.20" y1="69.60" x2="193.30" y2="69.60" stroke="#b8b8b8" stroke-width="0.9"/>
<line x1="154.20" y1="69.50" x2="154.20" y2="70.80" stroke="#888" stroke-width="0.45"/>
<line x1="169.00" y1="69.50" x2="169.00" y2="70.80" stroke="#888" stroke-width="0.45"/>
<line x1="179.70" y1="69.50" x2="179.70" y2="70.80" stroke="#888" stroke-width="0.45"/>
<line x1="189.50" y1="69.50" x2="189.50" y2="70.80" stroke="#888" stroke-width="0.45"/>
<line x1="160.00" y1="70.00" x2="163.00" y2="70.00" stroke="#222" stroke-width="0.9"/>
<ellipse cx="174.35" cy="53.75" rx="10.96" ry="6.75" fill="url(#rg0)" opacity="0.7" transform="rotate(-7 174.35 53.75)"/>
<g opacity="0.45" filter="url(#blur2)"><circle cx="175.2" cy="56.5" r="0.45" fill="#b0a8dc"/><circle cx="167.7" cy="59.7" r="0.45" fill="#8a9cd6"/><circle cx="176.7" cy="58.4" r="0.45" fill="#b0a8dc"/><circle cx="178.3" cy="60.0" r="0.45" fill="#98bce6"/><circle cx="165.3" cy="59.0" r="0.45" fill="#a0b4e2"/><circle cx="173.8" cy="58.2" r="0.45" fill="#8a9cd6"/><circle cx="166.9" cy="57.5" r="0.45" fill="#b0a8dc"/><circle cx="164.7" cy="58.5" r="0.45" fill="#a4c4cc"/><circle cx="180.8" cy="55.4" r="0.45" fill="#b0a8dc"/><circle cx="167.4" cy="56.5" r="0.45" fill="#a0b4e2"/><circle cx="179.1" cy="54.1" r="0.45" fill="#a4c4cc"/><circle cx="183.1" cy="50.8" r="0.45" fill="#8a9cd6"/><circle cx="176.7" cy="57.7" r="0.45" fill="#b0a8dc"/><circle cx="164.5" cy="59.2" r="0.45" fill="#8a9cd6"/><circle cx="164.6" cy="58.1" r="0.45" fill="#8a9cd6"/><circle cx="168.3" cy="56.9" r="0.45" fill="#a0b4e2"/><circle cx="166.0" cy="57.4" r="0.45" fill="#a4c4cc"/><circle cx="173.9" cy="58.2" r="0.45" fill="#b0a8dc"/><circle cx="177.8" cy="57.7" r="0.45" fill="#b0a8dc"/><circle cx="164.2" cy="59.2" r="0.45" fill="#b0a8dc"/><circle cx="168.6" cy="59.3" r="0.45" fill="#98bce6"/><circle cx="174.6" cy="52.8" r="0.45" fill="#a0b4e2"/><circle cx="165.8" cy="59.2" r="0.45" fill="#b0a8dc"/><circle cx="182.0" cy="56.0" r="0.45" fill="#98bce6"/><circle cx="178.6" cy="58.2" r="0.45" fill="#8a9cd6"/><circle cx="176.1" cy="57.8" r="0.45" fill="#a0b4e2"/><circle cx="178.1" cy="58.7" r="0.45" fill="#98bce6"/><circle cx="170.9" cy="53.1" r="0.45" fill="#a4c4cc"/><circle cx="165.9" cy="59.2" r="0.45" fill="#b0a8dc"/><circle cx="182.6" cy="55.3" r="0.45" fill="#98bce6"/><circle cx="167.3" cy="59.7" r="0.45" fill="#b0a8dc"/><circle cx="165.6" cy="58.2" r="0.45" fill="#8a9cd6"/><circle cx="182.8" cy="51.7" r="0.45" fill="#98bce6"/><circle cx="169.6" cy="55.9" r="0.45" fill="#a0b4e2"/><circle cx="181.4" cy="50.0" r="0.45" fill="#b0a8dc"/><circle cx="182.8" cy="58.6" r="0.45" fill="#a0b4e2"/><circle cx="184.4" cy="57.4" r="0.45" fill="#8a9cd6"/><circle cx="166.0" cy="58.3" r="0.45" fill="#98bce6"/><circle cx="183.7" cy="54.5" r="0.45" fill="#a4c4cc"/><circle cx="174.0" cy="59.2" r="0.45" fill="#a0b4e2"/><circle cx="167.7" cy="59.4" r="0.45" fill="#8a9cd6"/><circle cx="167.1" cy="59.6" r="0.45" fill="#8a9cd6"/><circle cx="166.3" cy="58.4" r="0.45" fill="#98bce6"/><circle cx="164.9" cy="57.8" r="0.45" fill="#a4c4cc"/><circle cx="180.5" cy="50.8" r="0.45" fill="#a0b4e2"/><circle cx="182.2" cy="52.9" r="0.45" fill="#b0a8dc"/><circle cx="167.7" cy="58.4" r="0.45" fill="#98bce6"/><circle cx="181.1" cy="54.5" r="0.45" fill="#98bce6"/><circle cx="170.1" cy="56.6" r="0.45" fill="#a4c4cc"/><circle cx="178.9" cy="53.2" r="0.45" fill="#b0a8dc"/><circle cx="180.2" cy="51.3" r="0.45" fill="#a0b4e2"/><circle cx="177.5" cy="59.5" r="0.45" fill="#98bce6"/><circle cx="175.3" cy="50.4" r="0.45" fill="#a4c4cc"/><circle cx="165.6" cy="59.6" r="0.45" fill="#b0a8dc"/><circle cx="166.3" cy="59.1" r="0.45" fill="#8a9cd6"/><circle cx="172.3" cy="52.6" r="0.45" fill="#a4c4cc"/><circle cx="171.0" cy="55.4" r="0.45" fill="#b0a8dc"/><circle cx="176.6" cy="50.4" r="0.45" fill="#a4c4cc"/><circle cx="168.9" cy="56.7" r="0.45" fill="#b0a8dc"/><circle cx="176.8" cy="51.2" r="0.45" fill="#8a9cd6"/><circle cx="166.7" cy="56.3" r="0.45" fill="#98bce6"/><circle cx="174.4" cy="54.1" r="0.45" fill="#8a9cd6"/><circle cx="164.7" cy="59.0" r="0.45" fill="#a4c4cc"/><circle cx="164.3" cy="59.5" r="0.45" fill="#b0a8dc"/><circle cx="173.4" cy="59.1" r="0.45" fill="#b0a8dc"/><circle cx="166.9" cy="59.6" r="0.45" fill="#b0a8dc"/><circle cx="184.4" cy="50.6" r="0.45" fill="#b0a8dc"/><circle cx="168.5" cy="57.0" r="0.45" fill="#a4c4cc"/><circle cx="171.3" cy="58.4" r="0.45" fill="#a0b4e2"/><circle cx="170.6" cy="58.7" r="0.45" fill="#8a9cd6"/></g>
<ellipse cx="170.10" cy="57.80" rx="8.40" ry="2.24" fill="url(#rg7)" opacity="0.55" transform="rotate(-4 170.10 57.80)"/>
<ellipse cx="167.07" cy="57.90" rx="5.24" ry="1.90" fill="url(#rg7)" opacity="0.8" transform="rotate(-2.0 167.07 57.90)"/>
<ellipse cx="162.50" cy="51.40" rx="1.43" ry="2.64" fill="url(#rg2)" opacity="0.8"/>
<ellipse cx="160.90" cy="56.35" rx="1.4" ry="5.05" fill="url(#rg3)" opacity="0.7"/>
<path d="M162.20 50.80 C164.10 55.34 164.40 60.90 162.20 60.90 C160.00 60.90 160.30 55.34 162.20 50.80 Z" fill="#8ab536" filter="url(#blur1)"/>
<line x1="163.40" y1="44.30" x2="172.90" y2="44.30" stroke="#bdbdbd" stroke-width="0.5"/>
<line x1="183.90" y1="44.30" x2="191.70" y2="44.30" stroke="#bdbdbd" stroke-width="0.5"/>
<line x1="163.40" y1="44.30" x2="163.40" y2="63.30" stroke="#bdbdbd" stroke-width="0.5"/>
<line x1="191.70" y1="44.30" x2="191.70" y2="63.30" stroke="#bdbdbd" stroke-width="0.5"/>
<line x1="163.40" y1="63.30" x2="191.70" y2="63.30" stroke="#bdbdbd" stroke-width="0.5"/>
<text x="178.39999999999998" y="40.6" font-size="4.1" text-anchor="middle" fill="#222" stroke="#222" stroke-width="0.18">EGFR+</text>
<text x="178.39999999999998" y="45.7" font-size="4.1" text-anchor="middle" fill="#222" stroke="#222" stroke-width="0.18">42.4</text>
<text x="431.8999999999999" y="26.1" font-size="6.2" text-anchor="middle" fill="#1a1a1a" stroke="#1a1a1a" stroke-width="0.18">CD8+ control</text>
<rect x="411.60" y="28.70" width="41.099999999999994" height="40.8" fill="none" stroke="#cfcfcf" stroke-width="0.55"/>
<text x="410.09999999999997" y="32.3" font-size="4.2" text-anchor="end" fill="#333" stroke="#333" stroke-width="0.18">250 K</text>
<line x1="410.70" y1="30.80" x2="412.10" y2="30.80" stroke="#666" stroke-width="0.45"/>
<text x="410.09999999999997" y="39.94" font-size="4.2" text-anchor="end" fill="#333" stroke="#333" stroke-width="0.18">200 K</text>
<line x1="410.70" y1="38.44" x2="412.10" y2="38.44" stroke="#666" stroke-width="0.45"/>
<text x="410.09999999999997" y="47.58" font-size="4.2" text-anchor="end" fill="#333" stroke="#333" stroke-width="0.18">150 K</text>
<line x1="410.70" y1="46.08" x2="412.10" y2="46.08" stroke="#666" stroke-width="0.45"/>
<text x="410.09999999999997" y="55.22" font-size="4.2" text-anchor="end" fill="#333" stroke="#333" stroke-width="0.18">100 K</text>
<line x1="410.70" y1="53.72" x2="412.10" y2="53.72" stroke="#666" stroke-width="0.45"/>
<text x="410.09999999999997" y="62.86" font-size="4.2" text-anchor="end" fill="#333" stroke="#333" stroke-width="0.18">50 K</text>
<line x1="410.70" y1="61.36" x2="412.10" y2="61.36" stroke="#666" stroke-width="0.45"/>
<text x="410.09999999999997" y="70.5" font-size="4.2" text-anchor="end" fill="#333" stroke="#333" stroke-width="0.18">0</text>
<line x1="410.70" y1="69.00" x2="412.10" y2="69.00" stroke="#666" stroke-width="0.45"/>
<text x="412.7" y="75.9" font-size="4.2" text-anchor="middle" fill="#333" stroke="#333" stroke-width="0.18">−10<tspan dy="-1.3" font-size="2.4">3</tspan></text>
<text x="420.79999999999995" y="75.9" font-size="4.2" text-anchor="middle" fill="#333" stroke="#333" stroke-width="0.18">0</text>
<text x="427.49999999999994" y="75.9" font-size="4.2" text-anchor="middle" fill="#333" stroke="#333" stroke-width="0.18">10<tspan dy="-1.3" font-size="2.4">3</tspan></text>
<text x="438.7" y="75.9" font-size="4.2" text-anchor="middle" fill="#333" stroke="#333" stroke-width="0.18">10<tspan dy="-1.3" font-size="2.4">4</tspan></text>
<text x="448.29999999999995" y="75.9" font-size="4.2" text-anchor="middle" fill="#333" stroke="#333" stroke-width="0.18">10<tspan dy="-1.3" font-size="2.4">5</tspan></text>
<line x1="411.60" y1="69.60" x2="452.70" y2="69.60" stroke="#b8b8b8" stroke-width="0.9"/>
<line x1="413.60" y1="69.50" x2="413.60" y2="70.80" stroke="#888" stroke-width="0.45"/>
<line x1="428.40" y1="69.50" x2="428.40" y2="70.80" stroke="#888" stroke-width="0.45"/>
<line x1="439.10" y1="69.50" x2="439.10" y2="70.80" stroke="#888" stroke-width="0.45"/>
<line x1="448.90" y1="69.50" x2="448.90" y2="70.80" stroke="#888" stroke-width="0.45"/>
<line x1="419.40" y1="70.00" x2="422.40" y2="70.00" stroke="#222" stroke-width="0.9"/>
<ellipse cx="434.35" cy="54.70" rx="11.61" ry="6.16" fill="url(#rg0)" opacity="0.7" transform="rotate(-7 434.35 54.70)"/>
<g opacity="0.45" filter="url(#blur2)"><circle cx="436.5" cy="52.5" r="0.45" fill="#a4c4cc"/><circle cx="426.7" cy="59.0" r="0.45" fill="#b0a8dc"/><circle cx="434.0" cy="57.1" r="0.45" fill="#a0b4e2"/><circle cx="432.4" cy="58.4" r="0.45" fill="#8a9cd6"/><circle cx="427.3" cy="57.0" r="0.45" fill="#a4c4cc"/><circle cx="436.2" cy="55.3" r="0.45" fill="#a0b4e2"/><circle cx="436.4" cy="54.8" r="0.45" fill="#98bce6"/><circle cx="434.3" cy="56.7" r="0.45" fill="#b0a8dc"/><circle cx="424.8" cy="58.9" r="0.45" fill="#8a9cd6"/><circle cx="429.8" cy="59.5" r="0.45" fill="#8a9cd6"/><circle cx="440.1" cy="56.7" r="0.45" fill="#8a9cd6"/><circle cx="438.5" cy="52.5" r="0.45" fill="#a4c4cc"/><circle cx="443.7" cy="54.0" r="0.45" fill="#b0a8dc"/><circle cx="431.9" cy="57.0" r="0.45" fill="#b0a8dc"/><circle cx="430.7" cy="57.2" r="0.45" fill="#b0a8dc"/><circle cx="432.3" cy="59.5" r="0.45" fill="#b0a8dc"/><circle cx="434.1" cy="56.2" r="0.45" fill="#a4c4cc"/><circle cx="430.9" cy="56.1" r="0.45" fill="#a0b4e2"/><circle cx="426.5" cy="59.6" r="0.45" fill="#98bce6"/><circle cx="433.2" cy="59.9" r="0.45" fill="#b0a8dc"/><circle cx="443.0" cy="49.8" r="0.45" fill="#b0a8dc"/><circle cx="437.0" cy="56.0" r="0.45" fill="#a0b4e2"/><circle cx="428.9" cy="59.9" r="0.45" fill="#a0b4e2"/><circle cx="425.8" cy="58.4" r="0.45" fill="#98bce6"/><circle cx="438.2" cy="53.5" r="0.45" fill="#b0a8dc"/><circle cx="438.3" cy="59.0" r="0.45" fill="#8a9cd6"/><circle cx="444.4" cy="57.2" r="0.45" fill="#a4c4cc"/><circle cx="443.5" cy="56.1" r="0.45" fill="#8a9cd6"/><circle cx="427.3" cy="57.7" r="0.45" fill="#8a9cd6"/><circle cx="424.1" cy="59.1" r="0.45" fill="#a4c4cc"/><circle cx="436.3" cy="52.5" r="0.45" fill="#98bce6"/><circle cx="441.7" cy="59.3" r="0.45" fill="#b0a8dc"/><circle cx="435.0" cy="58.3" r="0.45" fill="#b0a8dc"/><circle cx="444.4" cy="57.2" r="0.45" fill="#b0a8dc"/><circle cx="441.0" cy="51.3" r="0.45" fill="#98bce6"/><circle cx="426.3" cy="59.5" r="0.45" fill="#98bce6"/><circle cx="436.0" cy="53.2" r="0.45" fill="#a4c4cc"/><circle cx="438.1" cy="53.5" r="0.45" fill="#8a9cd6"/><circle cx="431.5" cy="56.7" r="0.45" fill="#8a9cd6"/><circle cx="430.0" cy="59.7" r="0.45" fill="#b0a8dc"/><circle cx="443.3" cy="53.1" r="0.45" fill="#a4c4cc"/><circle cx="424.9" cy="59.4" r="0.45" fill="#a0b4e2"/><circle cx="432.7" cy="57.4" r="0.45" fill="#b0a8dc"/><circle cx="426.9" cy="59.7" r="0.45" fill="#b0a8dc"/><circle cx="425.0" cy="59.2" r="0.45" fill="#98bce6"/><circle cx="430.0" cy="54.9" r="0.45" fill="#8a9cd6"/><circle cx="431.3" cy="55.9" r="0.45" fill="#8a9cd6"/><circle cx="432.8" cy="54.0" r="0.45" fill="#a4c4cc"/><circle cx="426.6" cy="59.1" r="0.45" fill="#b0a8dc"/><circle cx="441.4" cy="50.8" r="0.45" fill="#b0a8dc"/><circle cx="438.4" cy="57.7" r="0.45" fill="#a4c4cc"/><circle cx="424.9" cy="59.7" r="0.45" fill="#a0b4e2"/><circle cx="441.4" cy="55.3" r="0.45" fill="#a4c4cc"/><circle cx="423.6" cy="60.2" r="0.45" fill="#98bce6"/><circle cx="437.7" cy="52.9" r="0.45" fill="#a0b4e2"/><circle cx="429.3" cy="57.8" r="0.45" fill="#8a9cd6"/><circle cx="440.6" cy="51.6" r="0.45" fill="#a4c4cc"/><circle cx="438.4" cy="55.6" r="0.45" fill="#98bce6"/><circle cx="427.8" cy="59.1" r="0.45" fill="#8a9cd6"/><circle cx="423.9" cy="59.0" r="0.45" fill="#8a9cd6"/><circle cx="443.6" cy="56.2" r="0.45" fill="#b0a8dc"/><circle cx="424.1" cy="58.8" r="0.45" fill="#98bce6"/><circle cx="437.6" cy="52.3" r="0.45" fill="#8a9cd6"/><circle cx="424.4" cy="60.2" r="0.45" fill="#8a9cd6"/><circle cx="444.7" cy="52.8" r="0.45" fill="#98bce6"/><circle cx="441.6" cy="59.4" r="0.45" fill="#98bce6"/><circle cx="441.2" cy="57.8" r="0.45" fill="#98bce6"/><circle cx="425.7" cy="59.1" r="0.45" fill="#b0a8dc"/><circle cx="432.4" cy="60.0" r="0.45" fill="#a4c4cc"/><circle cx="430.6" cy="56.7" r="0.45" fill="#98bce6"/></g>
<ellipse cx="428.85" cy="58.40" rx="7.67" ry="2.02" fill="url(#rg5)" opacity="0.55"/>
<ellipse cx="426.03" cy="58.50" rx="4.73" ry="1.68" fill="url(#rg5)" opacity="0.8"/>
<ellipse cx="422.00" cy="55.40" rx="1.54" ry="4.51" fill="url(#rg8)" opacity="0.8"/>
<ellipse cx="420.30" cy="59.20" rx="1.4" ry="2.20" fill="url(#rg3)" opacity="0.7"/>
<path d="M421.60 56.50 C423.50 58.48 423.80 60.90 421.60 60.90 C419.40 60.90 419.70 58.48 421.60 56.50 Z" fill="#8ab536" filter="url(#blur1)"/>
<line x1="422.80" y1="44.30" x2="432.30" y2="44.30" stroke="#bdbdbd" stroke-width="0.5"/>
<line x1="443.30" y1="44.30" x2="451.10" y2="44.30" stroke="#bdbdbd" stroke-width="0.5"/>
<line x1="422.80" y1="44.30" x2="422.80" y2="63.30" stroke="#bdbdbd" stroke-width="0.5"/>
<line x1="451.10" y1="44.30" x2="451.10" y2="63.30" stroke="#bdbdbd" stroke-width="0.5"/>
<line x1="422.80" y1="63.30" x2="451.10" y2="63.30" stroke="#bdbdbd" stroke-width="0.5"/>
<text x="437.79999999999995" y="40.6" font-size="4.1" text-anchor="middle" fill="#222" stroke="#222" stroke-width="0.18">EGFR+</text>
<text x="437.79999999999995" y="45.7" font-size="4.1" text-anchor="middle" fill="#222" stroke="#222" stroke-width="0.18">43.1</text>
<text x="232.9" y="26.1" font-size="6.2" text-anchor="middle" fill="#1a1a1a" stroke="#1a1a1a" stroke-width="0.18">CD8+ stim</text>
<rect x="212.60" y="28.70" width="41.099999999999994" height="40.8" fill="none" stroke="#cfcfcf" stroke-width="0.55"/>
<text x="211.1" y="32.3" font-size="4.2" text-anchor="end" fill="#333" stroke="#333" stroke-width="0.18">250 K</text>
<line x1="211.70" y1="30.80" x2="213.10" y2="30.80" stroke="#666" stroke-width="0.45"/>
<text x="211.1" y="39.94" font-size="4.2" text-anchor="end" fill="#333" stroke="#333" stroke-width="0.18">200 K</text>
<line x1="211.70" y1="38.44" x2="213.10" y2="38.44" stroke="#666" stroke-width="0.45"/>
<text x="211.1" y="47.58" font-size="4.2" text-anchor="end" fill="#333" stroke="#333" stroke-width="0.18">150 K</text>
<line x1="211.70" y1="46.08" x2="213.10" y2="46.08" stroke="#666" stroke-width="0.45"/>
<text x="211.1" y="55.22" font-size="4.2" text-anchor="end" fill="#333" stroke="#333" stroke-width="0.18">100 K</text>
<line x1="211.70" y1="53.72" x2="213.10" y2="53.72" stroke="#666" stroke-width="0.45"/>
<text x="211.1" y="62.86" font-size="4.2" text-anchor="end" fill="#333" stroke="#333" stroke-width="0.18">50 K</text>
<line x1="211.70" y1="61.36" x2="213.10" y2="61.36" stroke="#666" stroke-width="0.45"/>
<text x="211.1" y="70.5" font-size="4.2" text-anchor="end" fill="#333" stroke="#333" stroke-width="0.18">0</text>
<line x1="211.70" y1="69.00" x2="213.10" y2="69.00" stroke="#666" stroke-width="0.45"/>
<text x="213.7" y="75.9" font-size="4.2" text-anchor="middle" fill="#333" stroke="#333" stroke-width="0.18">−10<tspan dy="-1.3" font-size="2.4">3</tspan></text>
<text x="221.79999999999998" y="75.9" font-size="4.2" text-anchor="middle" fill="#333" stroke="#333" stroke-width="0.18">0</text>
<text x="228.5" y="75.9" font-size="4.2" text-anchor="middle" fill="#333" stroke="#333" stroke-width="0.18">10<tspan dy="-1.3" font-size="2.4">3</tspan></text>
<text x="239.7" y="75.9" font-size="4.2" text-anchor="middle" fill="#333" stroke="#333" stroke-width="0.18">10<tspan dy="-1.3" font-size="2.4">4</tspan></text>
<text x="249.3" y="75.9" font-size="4.2" text-anchor="middle" fill="#333" stroke="#333" stroke-width="0.18">10<tspan dy="-1.3" font-size="2.4">5</tspan></text>
<line x1="212.60" y1="69.60" x2="253.70" y2="69.60" stroke="#b8b8b8" stroke-width="0.9"/>
<line x1="214.60" y1="69.50" x2="214.60" y2="70.80" stroke="#888" stroke-width="0.45"/>
<line x1="229.40" y1="69.50" x2="229.40" y2="70.80" stroke="#888" stroke-width="0.45"/>
<line x1="240.10" y1="69.50" x2="240.10" y2="70.80" stroke="#888" stroke-width="0.45"/>
<line x1="249.90" y1="69.50" x2="249.90" y2="70.80" stroke="#888" stroke-width="0.45"/>
<line x1="220.40" y1="70.00" x2="223.40" y2="70.00" stroke="#222" stroke-width="0.9"/>
<ellipse cx="237.30" cy="53.95" rx="12.74" ry="6.97" fill="url(#rg0)" opacity="0.7" transform="rotate(-7 237.30 53.95)"/>
<g opacity="0.45" filter="url(#blur2)"><circle cx="238.5" cy="58.1" r="0.45" fill="#a0b4e2"/><circle cx="242.3" cy="54.2" r="0.45" fill="#98bce6"/><circle cx="232.3" cy="59.6" r="0.45" fill="#a4c4cc"/><circle cx="244.1" cy="54.2" r="0.45" fill="#8a9cd6"/><circle cx="234.3" cy="56.0" r="0.45" fill="#b0a8dc"/><circle cx="239.4" cy="55.1" r="0.45" fill="#a4c4cc"/><circle cx="237.5" cy="59.1" r="0.45" fill="#a4c4cc"/><circle cx="249.1" cy="53.9" r="0.45" fill="#98bce6"/><circle cx="229.6" cy="58.7" r="0.45" fill="#b0a8dc"/><circle cx="240.7" cy="57.2" r="0.45" fill="#98bce6"/><circle cx="242.1" cy="53.6" r="0.45" fill="#a0b4e2"/><circle cx="245.7" cy="48.5" r="0.45" fill="#a0b4e2"/><circle cx="240.8" cy="60.1" r="0.45" fill="#a4c4cc"/><circle cx="226.3" cy="59.7" r="0.45" fill="#a4c4cc"/><circle cx="231.4" cy="54.9" r="0.45" fill="#a4c4cc"/><circle cx="226.3" cy="60.4" r="0.45" fill="#b0a8dc"/><circle cx="228.0" cy="58.9" r="0.45" fill="#b0a8dc"/><circle cx="232.6" cy="59.0" r="0.45" fill="#a4c4cc"/><circle cx="247.0" cy="50.4" r="0.45" fill="#b0a8dc"/><circle cx="229.1" cy="59.9" r="0.45" fill="#8a9cd6"/><circle cx="235.5" cy="59.4" r="0.45" fill="#a0b4e2"/><circle cx="248.3" cy="51.8" r="0.45" fill="#a0b4e2"/><circle cx="238.3" cy="60.1" r="0.45" fill="#a0b4e2"/><circle cx="238.5" cy="58.2" r="0.45" fill="#8a9cd6"/><circle cx="243.2" cy="52.5" r="0.45" fill="#b0a8dc"/><circle cx="246.8" cy="53.5" r="0.45" fill="#98bce6"/><circle cx="228.1" cy="56.8" r="0.45" fill="#b0a8dc"/><circle cx="226.1" cy="59.1" r="0.45" fill="#98bce6"/><circle cx="235.2" cy="55.8" r="0.45" fill="#a4c4cc"/><circle cx="238.8" cy="58.9" r="0.45" fill="#98bce6"/><circle cx="233.4" cy="59.4" r="0.45" fill="#8a9cd6"/><circle cx="236.1" cy="56.0" r="0.45" fill="#98bce6"/><circle cx="245.1" cy="57.1" r="0.45" fill="#a0b4e2"/><circle cx="228.2" cy="59.3" r="0.45" fill="#8a9cd6"/><circle cx="226.3" cy="58.1" r="0.45" fill="#a4c4cc"/><circle cx="247.1" cy="58.2" r="0.45" fill="#a0b4e2"/><circle cx="225.5" cy="59.0" r="0.45" fill="#8a9cd6"/><circle cx="227.3" cy="58.6" r="0.45" fill="#8a9cd6"/><circle cx="237.7" cy="57.9" r="0.45" fill="#a4c4cc"/><circle cx="234.6" cy="60.2" r="0.45" fill="#98bce6"/><circle cx="248.3" cy="59.8" r="0.45" fill="#98bce6"/><circle cx="245.3" cy="57.2" r="0.45" fill="#a0b4e2"/><circle cx="226.9" cy="57.6" r="0.45" fill="#98bce6"/><circle cx="232.9" cy="54.4" r="0.45" fill="#b0a8dc"/><circle cx="245.2" cy="59.7" r="0.45" fill="#a4c4cc"/><circle cx="229.2" cy="59.1" r="0.45" fill="#a4c4cc"/><circle cx="246.5" cy="55.4" r="0.45" fill="#98bce6"/><circle cx="227.2" cy="59.7" r="0.45" fill="#a0b4e2"/><circle cx="230.1" cy="57.3" r="0.45" fill="#a4c4cc"/><circle cx="236.9" cy="56.7" r="0.45" fill="#b0a8dc"/><circle cx="227.5" cy="56.9" r="0.45" fill="#8a9cd6"/><circle cx="246.7" cy="50.9" r="0.45" fill="#a0b4e2"/><circle cx="245.7" cy="51.5" r="0.45" fill="#8a9cd6"/><circle cx="226.3" cy="58.8" r="0.45" fill="#8a9cd6"/><circle cx="233.3" cy="58.3" r="0.45" fill="#a0b4e2"/><circle cx="243.0" cy="59.4" r="0.45" fill="#b0a8dc"/><circle cx="226.1" cy="58.9" r="0.45" fill="#a4c4cc"/><circle cx="234.7" cy="53.2" r="0.45" fill="#8a9cd6"/><circle cx="226.6" cy="58.9" r="0.45" fill="#a4c4cc"/><circle cx="232.3" cy="59.3" r="0.45" fill="#8a9cd6"/><circle cx="232.7" cy="58.0" r="0.45" fill="#a0b4e2"/><circle cx="243.5" cy="53.4" r="0.45" fill="#8a9cd6"/><circle cx="226.3" cy="60.0" r="0.45" fill="#98bce6"/><circle cx="246.1" cy="54.8" r="0.45" fill="#b0a8dc"/><circle cx="244.0" cy="52.4" r="0.45" fill="#b0a8dc"/><circle cx="230.2" cy="58.2" r="0.45" fill="#8a9cd6"/><circle cx="228.4" cy="59.3" r="0.45" fill="#98bce6"/><circle cx="230.4" cy="60.0" r="0.45" fill="#b0a8dc"/><circle cx="246.8" cy="53.6" r="0.45" fill="#8a9cd6"/><circle cx="236.4" cy="59.7" r="0.45" fill="#98bce6"/></g>
<ellipse cx="232.00" cy="57.95" rx="10.08" ry="2.52" fill="url(#rg9)" opacity="0.55" transform="rotate(-4 232.00 57.95)"/>
<ellipse cx="228.21" cy="58.05" rx="6.06" ry="2.18" fill="url(#rg9)" opacity="0.8" transform="rotate(-2.0 228.21 58.05)"/>
<ellipse cx="222.90" cy="54.30" rx="1.65" ry="3.74" fill="url(#rg2)" opacity="0.8"/>
<ellipse cx="221.30" cy="58.30" rx="1.4" ry="3.10" fill="url(#rg3)" opacity="0.7"/>
<path d="M222.60 54.70 C224.50 57.49 224.80 60.90 222.60 60.90 C220.40 60.90 220.70 57.49 222.60 54.70 Z" fill="#8ab536" filter="url(#blur1)"/>
<line x1="223.80" y1="44.30" x2="233.30" y2="44.30" stroke="#bdbdbd" stroke-width="0.5"/>
<line x1="244.30" y1="44.30" x2="252.10" y2="44.30" stroke="#bdbdbd" stroke-width="0.5"/>
<line x1="223.80" y1="44.30" x2="223.80" y2="63.30" stroke="#bdbdbd" stroke-width="0.5"/>
<line x1="252.10" y1="44.30" x2="252.10" y2="63.30" stroke="#bdbdbd" stroke-width="0.5"/>
<line x1="223.80" y1="63.30" x2="252.10" y2="63.30" stroke="#bdbdbd" stroke-width="0.5"/>
<text x="238.79999999999998" y="40.6" font-size="4.1" text-anchor="middle" fill="#222" stroke="#222" stroke-width="0.18">EGFR+</text>
<text x="238.79999999999998" y="45.7" font-size="4.1" text-anchor="middle" fill="#222" stroke="#222" stroke-width="0.18">43.4</text>
<text x="492.29999999999995" y="26.1" font-size="6.2" text-anchor="middle" fill="#1a1a1a" stroke="#1a1a1a" stroke-width="0.18">CD8+ stim</text>
<rect x="472.00" y="28.70" width="41.099999999999994" height="40.8" fill="none" stroke="#cfcfcf" stroke-width="0.55"/>
<text x="470.5" y="32.3" font-size="4.2" text-anchor="end" fill="#333" stroke="#333" stroke-width="0.18">250 K</text>
<line x1="471.10" y1="30.80" x2="472.50" y2="30.80" stroke="#666" stroke-width="0.45"/>
<text x="470.5" y="39.94" font-size="4.2" text-anchor="end" fill="#333" stroke="#333" stroke-width="0.18">200 K</text>
<line x1="471.10" y1="38.44" x2="472.50" y2="38.44" stroke="#666" stroke-width="0.45"/>
<text x="470.5" y="47.58" font-size="4.2" text-anchor="end" fill="#333" stroke="#333" stroke-width="0.18">150 K</text>
<line x1="471.10" y1="46.08" x2="472.50" y2="46.08" stroke="#666" stroke-width="0.45"/>
<text x="470.5" y="55.22" font-size="4.2" text-anchor="end" fill="#333" stroke="#333" stroke-width="0.18">100 K</text>
<line x1="471.10" y1="53.72" x2="472.50" y2="53.72" stroke="#666" stroke-width="0.45"/>
<text x="470.5" y="62.86" font-size="4.2" text-anchor="end" fill="#333" stroke="#333" stroke-width="0.18">50 K</text>
<line x1="471.10" y1="61.36" x2="472.50" y2="61.36" stroke="#666" stroke-width="0.45"/>
<text x="470.5" y="70.5" font-size="4.2" text-anchor="end" fill="#333" stroke="#333" stroke-width="0.18">0</text>
<line x1="471.10" y1="69.00" x2="472.50" y2="69.00" stroke="#666" stroke-width="0.45"/>
<text x="473.1" y="75.9" font-size="4.2" text-anchor="middle" fill="#333" stroke="#333" stroke-width="0.18">−10<tspan dy="-1.3" font-size="2.4">3</tspan></text>
<text x="481.2" y="75.9" font-size="4.2" text-anchor="middle" fill="#333" stroke="#333" stroke-width="0.18">0</text>
<text x="487.9" y="75.9" font-size="4.2" text-anchor="middle" fill="#333" stroke="#333" stroke-width="0.18">10<tspan dy="-1.3" font-size="2.4">3</tspan></text>
<text x="499.1" y="75.9" font-size="4.2" text-anchor="middle" fill="#333" stroke="#333" stroke-width="0.18">10<tspan dy="-1.3" font-size="2.4">4</tspan></text>
<text x="508.7" y="75.9" font-size="4.2" text-anchor="middle" fill="#333" stroke="#333" stroke-width="0.18">10<tspan dy="-1.3" font-size="2.4">5</tspan></text>
<line x1="472.00" y1="69.60" x2="513.10" y2="69.60" stroke="#b8b8b8" stroke-width="0.9"/>
<line x1="474.00" y1="69.50" x2="474.00" y2="70.80" stroke="#888" stroke-width="0.45"/>
<line x1="488.80" y1="69.50" x2="488.80" y2="70.80" stroke="#888" stroke-width="0.45"/>
<line x1="499.50" y1="69.50" x2="499.50" y2="70.80" stroke="#888" stroke-width="0.45"/>
<line x1="509.30" y1="69.50" x2="509.30" y2="70.80" stroke="#888" stroke-width="0.45"/>
<line x1="479.80" y1="70.00" x2="482.80" y2="70.00" stroke="#222" stroke-width="0.9"/>
<ellipse cx="496.30" cy="54.70" rx="13.18" ry="6.16" fill="url(#rg0)" opacity="0.7" transform="rotate(-7 496.30 54.70)"/>
<g opacity="0.45" filter="url(#blur2)"><circle cx="505.0" cy="54.7" r="0.45" fill="#a0b4e2"/><circle cx="486.0" cy="59.8" r="0.45" fill="#a0b4e2"/><circle cx="485.6" cy="57.9" r="0.45" fill="#b0a8dc"/><circle cx="495.8" cy="55.2" r="0.45" fill="#98bce6"/><circle cx="490.1" cy="59.1" r="0.45" fill="#b0a8dc"/><circle cx="500.7" cy="54.0" r="0.45" fill="#98bce6"/><circle cx="499.1" cy="56.3" r="0.45" fill="#a0b4e2"/><circle cx="493.1" cy="57.3" r="0.45" fill="#a4c4cc"/><circle cx="507.6" cy="54.1" r="0.45" fill="#98bce6"/><circle cx="492.3" cy="58.4" r="0.45" fill="#8a9cd6"/><circle cx="506.2" cy="56.8" r="0.45" fill="#8a9cd6"/><circle cx="484.8" cy="60.4" r="0.45" fill="#a4c4cc"/><circle cx="507.2" cy="56.6" r="0.45" fill="#a4c4cc"/><circle cx="505.4" cy="51.7" r="0.45" fill="#b0a8dc"/><circle cx="505.5" cy="51.9" r="0.45" fill="#b0a8dc"/><circle cx="492.3" cy="56.9" r="0.45" fill="#b0a8dc"/><circle cx="501.2" cy="56.8" r="0.45" fill="#b0a8dc"/><circle cx="487.7" cy="59.1" r="0.45" fill="#a0b4e2"/><circle cx="494.8" cy="53.5" r="0.45" fill="#8a9cd6"/><circle cx="484.7" cy="60.2" r="0.45" fill="#98bce6"/><circle cx="491.6" cy="56.3" r="0.45" fill="#a0b4e2"/><circle cx="494.0" cy="54.6" r="0.45" fill="#a4c4cc"/><circle cx="490.5" cy="55.2" r="0.45" fill="#a0b4e2"/><circle cx="508.2" cy="53.0" r="0.45" fill="#98bce6"/><circle cx="498.8" cy="54.7" r="0.45" fill="#98bce6"/><circle cx="494.0" cy="57.7" r="0.45" fill="#8a9cd6"/><circle cx="493.3" cy="60.2" r="0.45" fill="#a4c4cc"/><circle cx="490.2" cy="60.2" r="0.45" fill="#98bce6"/><circle cx="488.6" cy="57.3" r="0.45" fill="#8a9cd6"/><circle cx="492.5" cy="54.8" r="0.45" fill="#98bce6"/><circle cx="496.8" cy="57.9" r="0.45" fill="#a4c4cc"/><circle cx="486.0" cy="58.9" r="0.45" fill="#98bce6"/><circle cx="489.6" cy="60.3" r="0.45" fill="#b0a8dc"/><circle cx="490.3" cy="57.0" r="0.45" fill="#98bce6"/><circle cx="487.3" cy="59.5" r="0.45" fill="#b0a8dc"/><circle cx="494.0" cy="58.0" r="0.45" fill="#b0a8dc"/><circle cx="484.9" cy="59.0" r="0.45" fill="#b0a8dc"/><circle cx="496.9" cy="53.7" r="0.45" fill="#a0b4e2"/><circle cx="491.5" cy="59.7" r="0.45" fill="#b0a8dc"/><circle cx="495.1" cy="55.5" r="0.45" fill="#b0a8dc"/><circle cx="496.5" cy="56.0" r="0.45" fill="#98bce6"/><circle cx="500.6" cy="60.1" r="0.45" fill="#a4c4cc"/><circle cx="498.8" cy="59.8" r="0.45" fill="#8a9cd6"/><circle cx="492.0" cy="58.7" r="0.45" fill="#98bce6"/><circle cx="484.6" cy="60.0" r="0.45" fill="#98bce6"/><circle cx="493.1" cy="60.2" r="0.45" fill="#a4c4cc"/><circle cx="495.5" cy="59.5" r="0.45" fill="#8a9cd6"/><circle cx="486.8" cy="58.3" r="0.45" fill="#a4c4cc"/><circle cx="486.7" cy="59.5" r="0.45" fill="#a4c4cc"/><circle cx="488.2" cy="56.6" r="0.45" fill="#8a9cd6"/><circle cx="490.0" cy="58.3" r="0.45" fill="#98bce6"/><circle cx="500.5" cy="55.9" r="0.45" fill="#98bce6"/><circle cx="508.1" cy="54.9" r="0.45" fill="#8a9cd6"/><circle cx="488.1" cy="56.1" r="0.45" fill="#98bce6"/><circle cx="501.1" cy="50.9" r="0.45" fill="#8a9cd6"/><circle cx="492.9" cy="56.9" r="0.45" fill="#b0a8dc"/><circle cx="499.6" cy="59.1" r="0.45" fill="#a0b4e2"/><circle cx="491.2" cy="58.3" r="0.45" fill="#b0a8dc"/><circle cx="501.3" cy="56.9" r="0.45" fill="#a0b4e2"/><circle cx="499.8" cy="60.3" r="0.45" fill="#98bce6"/><circle cx="504.8" cy="59.3" r="0.45" fill="#98bce6"/><circle cx="486.1" cy="59.5" r="0.45" fill="#98bce6"/><circle cx="496.2" cy="54.7" r="0.45" fill="#a0b4e2"/><circle cx="496.0" cy="56.7" r="0.45" fill="#b0a8dc"/><circle cx="505.4" cy="60.3" r="0.45" fill="#b0a8dc"/><circle cx="500.5" cy="55.3" r="0.45" fill="#98bce6"/><circle cx="484.7" cy="59.7" r="0.45" fill="#98bce6"/><circle cx="494.8" cy="54.9" r="0.45" fill="#98bce6"/><circle cx="484.8" cy="59.8" r="0.45" fill="#98bce6"/><circle cx="503.0" cy="54.4" r="0.45" fill="#98bce6"/></g>
<ellipse cx="492.55" cy="57.95" rx="11.82" ry="2.52" fill="url(#rg10)" opacity="0.55"/>
<ellipse cx="488.18" cy="58.05" rx="7.14" ry="2.18" fill="url(#rg10)" opacity="0.8"/>
<ellipse cx="482.10" cy="54.95" rx="1.43" ry="4.02" fill="url(#rg8)" opacity="0.8"/>
<ellipse cx="480.30" cy="58.75" rx="1.4" ry="2.65" fill="url(#rg3)" opacity="0.7"/>
<path d="M481.60 55.60 C483.50 57.98 483.80 60.90 481.60 60.90 C479.40 60.90 479.70 57.98 481.60 55.60 Z" fill="#8ab536" filter="url(#blur1)"/>
<line x1="483.20" y1="44.30" x2="492.70" y2="44.30" stroke="#bdbdbd" stroke-width="0.5"/>
<line x1="503.70" y1="44.30" x2="511.50" y2="44.30" stroke="#bdbdbd" stroke-width="0.5"/>
<line x1="483.20" y1="44.30" x2="483.20" y2="63.30" stroke="#bdbdbd" stroke-width="0.5"/>
<line x1="511.50" y1="44.30" x2="511.50" y2="63.30" stroke="#bdbdbd" stroke-width="0.5"/>
<line x1="483.20" y1="63.30" x2="511.50" y2="63.30" stroke="#bdbdbd" stroke-width="0.5"/>
<text x="498.2" y="40.6" font-size="4.1" text-anchor="middle" fill="#222" stroke="#222" stroke-width="0.18">EGFR+</text>
<text x="498.2" y="45.7" font-size="4.1" text-anchor="middle" fill="#222" stroke="#222" stroke-width="0.18">41.7</text>
<line x1="15.60" y1="79.50" x2="15.60" y2="62.00" stroke="#111" stroke-width="0.8"/>
<path d="M13.8 62.8 L15.6 58.9 L17.4 62.8 Z" fill="#111"/>
<line x1="15.60" y1="79.40" x2="33.50" y2="79.40" stroke="#111" stroke-width="0.8"/>
<path d="M33.0 77.7 L36.8 79.4 L33.0 81.1 Z" fill="#111"/>
<text x="10.3" y="69.4" font-size="4.6" text-anchor="middle" fill="#1a1a1a" stroke="#1a1a1a" stroke-width="0.1" font-weight="bold" transform="rotate(-90 10.3 69.4)" textLength="11.4" lengthAdjust="spacingAndGlyphs">FSC-A</text>
<text x="26.6" y="88.0" font-size="6.3" text-anchor="middle" fill="#1a1a1a" stroke="#1a1a1a" stroke-width="0.1" font-weight="bold" textLength="16.6" lengthAdjust="spacingAndGlyphs">EGFR-PE</text>
<line x1="275.10" y1="79.50" x2="275.10" y2="62.00" stroke="#111" stroke-width="0.8"/>
<path d="M273.3 62.8 L275.1 58.9 L276.9 62.8 Z" fill="#111"/>
<line x1="275.10" y1="79.40" x2="293.00" y2="79.40" stroke="#111" stroke-width="0.8"/>
<path d="M292.5 77.7 L296.3 79.4 L292.5 81.1 Z" fill="#111"/>
<text x="269.8" y="69.4" font-size="4.6" text-anchor="middle" fill="#1a1a1a" stroke="#1a1a1a" stroke-width="0.1" font-weight="bold" transform="rotate(-90 269.8 69.4)" textLength="11.4" lengthAdjust="spacingAndGlyphs">FSC-A</text>
<text x="286.1" y="88.0" font-size="6.3" text-anchor="middle" fill="#1a1a1a" stroke="#1a1a1a" stroke-width="0.1" font-weight="bold" textLength="16.6" lengthAdjust="spacingAndGlyphs">EGFR-PE</text>
<line x1="43.90" y1="209.40" x2="43.90" y2="124.26" stroke="#222" stroke-width="0.9"/>
<line x1="41.40" y1="209.40" x2="43.90" y2="209.40" stroke="#222" stroke-width="0.6"/>
<text x="37.9" y="211.15" font-size="5.7" text-anchor="end" fill="#333" stroke="#333" stroke-width="0.1">0%</text>
<line x1="41.40" y1="199.32" x2="43.90" y2="199.32" stroke="#222" stroke-width="0.6"/>
<text x="37.9" y="201.07" font-size="5.7" text-anchor="end" fill="#333" stroke="#333" stroke-width="0.1">2%</text>
<line x1="41.40" y1="189.24" x2="43.90" y2="189.24" stroke="#222" stroke-width="0.6"/>
<text x="37.9" y="190.99" font-size="5.7" text-anchor="end" fill="#333" stroke="#333" stroke-width="0.1">4%</text>
<line x1="41.40" y1="179.16" x2="43.90" y2="179.16" stroke="#222" stroke-width="0.6"/>
<text x="37.9" y="180.91" font-size="5.7" text-anchor="end" fill="#333" stroke="#333" stroke-width="0.1">6%</text>
<line x1="41.40" y1="169.08" x2="43.90" y2="169.08" stroke="#222" stroke-width="0.6"/>
<text x="37.9" y="170.83" font-size="5.7" text-anchor="end" fill="#333" stroke="#333" stroke-width="0.1">8%</text>
<line x1="41.40" y1="159.00" x2="43.90" y2="159.00" stroke="#222" stroke-width="0.6"/>
<text x="37.9" y="160.75" font-size="5.7" text-anchor="end" fill="#333" stroke="#333" stroke-width="0.1">10%</text>
<line x1="41.40" y1="148.92" x2="43.90" y2="148.92" stroke="#222" stroke-width="0.6"/>
<text x="37.9" y="150.67000000000002" font-size="5.7" text-anchor="end" fill="#333" stroke="#333" stroke-width="0.1">12%</text>
<line x1="41.40" y1="138.84" x2="43.90" y2="138.84" stroke="#222" stroke-width="0.6"/>
<text x="37.9" y="140.59" font-size="5.7" text-anchor="end" fill="#333" stroke="#333" stroke-width="0.1">14%</text>
<line x1="41.40" y1="128.76" x2="43.90" y2="128.76" stroke="#222" stroke-width="0.6"/>
<text x="37.9" y="130.51" font-size="5.7" text-anchor="end" fill="#333" stroke="#333" stroke-width="0.1">16%</text>
<line x1="43.45" y1="209.40" x2="128.60" y2="209.40" stroke="#222" stroke-width="1.15"/>
<line x1="54.20" y1="209.40" x2="54.20" y2="211.90" stroke="#222" stroke-width="0.6"/>
<line x1="75.00" y1="209.40" x2="75.00" y2="211.90" stroke="#222" stroke-width="0.6"/>
<line x1="95.50" y1="209.40" x2="95.50" y2="211.90" stroke="#222" stroke-width="0.6"/>
<line x1="116.10" y1="209.40" x2="116.10" y2="211.90" stroke="#222" stroke-width="0.6"/>
<rect x="48.05" y="205.20" width="12.30" height="1.20" fill="#e2ae7c"/>
<rect x="48.05" y="206.40" width="12.30" height="2.00" fill="#eac39a"/>
<rect x="68.85" y="150.80" width="12.30" height="4.60" fill="#c66e1e"/>
<rect x="68.85" y="155.40" width="12.30" height="8.10" fill="#d8914c"/>
<rect x="68.85" y="163.50" width="12.30" height="17.50" fill="#e0ae7d"/>
<rect x="68.85" y="181.00" width="12.30" height="27.90" fill="#f3ddc8"/>
<rect x="89.35" y="191.20" width="12.30" height="1.10" fill="#dba268"/>
<rect x="89.35" y="192.30" width="12.30" height="3.80" fill="#e4b88a"/>
<rect x="89.35" y="196.10" width="12.30" height="12.80" fill="#f3ddc8"/>
<rect x="109.95" y="124.10" width="12.30" height="7.80" fill="#c66e1e"/>
<rect x="109.95" y="131.90" width="12.30" height="10.20" fill="#d8914c"/>
<rect x="109.95" y="142.10" width="12.30" height="27.90" fill="#e0ae7d"/>
<rect x="109.95" y="170.00" width="12.30" height="38.90" fill="#f3ddc8"/>
<text x="54.5" y="218.20000000000002" font-size="6.0" text-anchor="end" fill="#333" stroke="#333" stroke-width="0.1" transform="rotate(-45 54.5 218.20000000000002)">CD4+</text>
<text x="60.5" y="222.5" font-size="6.0" text-anchor="end" fill="#333" stroke="#333" stroke-width="0.1" transform="rotate(-45 60.5 222.5)">Control</text>
<text x="75.3" y="218.20000000000002" font-size="6.0" text-anchor="end" fill="#333" stroke="#333" stroke-width="0.1" transform="rotate(-45 75.3 218.20000000000002)">CD4+</text>
<text x="81.3" y="222.5" font-size="6.0" text-anchor="end" fill="#333" stroke="#333" stroke-width="0.1" transform="rotate(-45 81.3 222.5)">Stim</text>
<text x="95.8" y="218.20000000000002" font-size="6.0" text-anchor="end" fill="#333" stroke="#333" stroke-width="0.1" transform="rotate(-45 95.8 218.20000000000002)">CD8+</text>
<text x="101.8" y="222.5" font-size="6.0" text-anchor="end" fill="#333" stroke="#333" stroke-width="0.1" transform="rotate(-45 101.8 222.5)">Control</text>
<text x="116.39999999999999" y="218.20000000000002" font-size="6.0" text-anchor="end" fill="#333" stroke="#333" stroke-width="0.1" transform="rotate(-45 116.39999999999999 218.20000000000002)">CD8+</text>
<text x="122.39999999999999" y="222.5" font-size="6.0" text-anchor="end" fill="#333" stroke="#333" stroke-width="0.1" transform="rotate(-45 122.39999999999999 222.5)">Stim</text>
<text x="19.9" y="169.7" font-size="6.0" text-anchor="middle" fill="#222" stroke="#222" stroke-width="0.1" transform="rotate(-90 19.9 169.7)" textLength="77" lengthAdjust="spacingAndGlyphs">Polyfunctionality (% of sample)</text>
<line x1="165.00" y1="209.40" x2="165.00" y2="123.28" stroke="#222" stroke-width="0.9"/>
<line x1="162.50" y1="209.40" x2="165.00" y2="209.40" stroke="#222" stroke-width="0.6"/>
<text x="159.0" y="211.15" font-size="5.7" text-anchor="end" fill="#333" stroke="#333" stroke-width="0.1">0</text>
<line x1="162.50" y1="201.17" x2="165.00" y2="201.17" stroke="#222" stroke-width="0.6"/>
<text x="159.0" y="202.918" font-size="5.7" text-anchor="end" fill="#333" stroke="#333" stroke-width="0.1">40</text>
<line x1="162.50" y1="192.94" x2="165.00" y2="192.94" stroke="#222" stroke-width="0.6"/>
<text x="159.0" y="194.686" font-size="5.7" text-anchor="end" fill="#333" stroke="#333" stroke-width="0.1">80</text>
<line x1="162.50" y1="184.70" x2="165.00" y2="184.70" stroke="#222" stroke-width="0.6"/>
<text x="159.0" y="186.454" font-size="5.7" text-anchor="end" fill="#333" stroke="#333" stroke-width="0.1">120</text>
<line x1="162.50" y1="176.47" x2="165.00" y2="176.47" stroke="#222" stroke-width="0.6"/>
<text x="159.0" y="178.222" font-size="5.7" text-anchor="end" fill="#333" stroke="#333" stroke-width="0.1">160</text>
<line x1="162.50" y1="168.24" x2="165.00" y2="168.24" stroke="#222" stroke-width="0.6"/>
<text x="159.0" y="169.99" font-size="5.7" text-anchor="end" fill="#333" stroke="#333" stroke-width="0.1">200</text>
<line x1="162.50" y1="160.01" x2="165.00" y2="160.01" stroke="#222" stroke-width="0.6"/>
<text x="159.0" y="161.758" font-size="5.7" text-anchor="end" fill="#333" stroke="#333" stroke-width="0.1">240</text>
<line x1="162.50" y1="151.78" x2="165.00" y2="151.78" stroke="#222" stroke-width="0.6"/>
<text x="159.0" y="153.526" font-size="5.7" text-anchor="end" fill="#333" stroke="#333" stroke-width="0.1">280</text>
<line x1="162.50" y1="143.54" x2="165.00" y2="143.54" stroke="#222" stroke-width="0.6"/>
<text x="159.0" y="145.29399999999998" font-size="5.7" text-anchor="end" fill="#333" stroke="#333" stroke-width="0.1">320</text>
<line x1="162.50" y1="135.31" x2="165.00" y2="135.31" stroke="#222" stroke-width="0.6"/>
<text x="159.0" y="137.062" font-size="5.7" text-anchor="end" fill="#333" stroke="#333" stroke-width="0.1">360</text>
<line x1="162.50" y1="127.08" x2="165.00" y2="127.08" stroke="#222" stroke-width="0.6"/>
<text x="159.0" y="128.82999999999998" font-size="5.7" text-anchor="end" fill="#333" stroke="#333" stroke-width="0.1">400</text>
<line x1="164.55" y1="209.40" x2="249.00" y2="209.40" stroke="#222" stroke-width="1.15"/>
<line x1="175.10" y1="209.40" x2="175.10" y2="211.90" stroke="#222" stroke-width="0.6"/>
<line x1="195.60" y1="209.40" x2="195.60" y2="211.90" stroke="#222" stroke-width="0.6"/>
<line x1="216.00" y1="209.40" x2="216.00" y2="211.90" stroke="#222" stroke-width="0.6"/>
<line x1="236.50" y1="209.40" x2="236.50" y2="211.90" stroke="#222" stroke-width="0.6"/>
<rect x="168.95" y="206.50" width="12.30" height="1.10" fill="#6a7cc4"/>
<rect x="168.95" y="207.60" width="12.30" height="0.80" fill="#7aa0c8"/>
<rect x="189.45" y="152.90" width="12.30" height="0.90" fill="#5a8ed0"/>
<rect x="189.45" y="153.80" width="12.30" height="26.50" fill="#33a9e0"/>
<rect x="189.45" y="180.30" width="12.30" height="28.60" fill="#aabb7e"/>
<rect x="209.85" y="196.90" width="12.30" height="2.60" fill="#6a7ec8"/>
<rect x="209.85" y="199.50" width="12.30" height="9.40" fill="#aabb7e"/>
<rect x="230.35" y="126.70" width="12.30" height="14.40" fill="#9682c6"/>
<rect x="230.35" y="141.10" width="12.30" height="18.90" fill="#33a9e0"/>
<rect x="230.35" y="160.00" width="12.30" height="48.90" fill="#aabb7e"/>
<text x="175.4" y="218.20000000000002" font-size="6.0" text-anchor="end" fill="#333" stroke="#333" stroke-width="0.1" transform="rotate(-45 175.4 218.20000000000002)">CD4+</text>
<text x="181.4" y="222.5" font-size="6.0" text-anchor="end" fill="#333" stroke="#333" stroke-width="0.1" transform="rotate(-45 181.4 222.5)">Control</text>
<text x="195.9" y="218.20000000000002" font-size="6.0" text-anchor="end" fill="#333" stroke="#333" stroke-width="0.1" transform="rotate(-45 195.9 218.20000000000002)">CD4+</text>
<text x="201.9" y="222.5" font-size="6.0" text-anchor="end" fill="#333" stroke="#333" stroke-width="0.1" transform="rotate(-45 201.9 222.5)">Stim</text>
<text x="216.3" y="218.20000000000002" font-size="6.0" text-anchor="end" fill="#333" stroke="#333" stroke-width="0.1" transform="rotate(-45 216.3 218.20000000000002)">CD8+</text>
<text x="222.3" y="222.5" font-size="6.0" text-anchor="end" fill="#333" stroke="#333" stroke-width="0.1" transform="rotate(-45 222.3 222.5)">Control</text>
<text x="236.8" y="218.20000000000002" font-size="6.0" text-anchor="end" fill="#333" stroke="#333" stroke-width="0.1" transform="rotate(-45 236.8 218.20000000000002)">CD8+</text>
<text x="242.8" y="222.5" font-size="6.0" text-anchor="end" fill="#333" stroke="#333" stroke-width="0.1" transform="rotate(-45 242.8 222.5)">Stim</text>
<text x="143.2" y="168.7" font-size="6.0" text-anchor="middle" fill="#222" stroke="#222" stroke-width="0.1" transform="rotate(-90 143.2 168.7)" textLength="72" lengthAdjust="spacingAndGlyphs">Polyfunctional strength index</text>
<text x="169.3" y="150.0" font-size="5.8" text-anchor="start" fill="#333" stroke="#333" stroke-width="0.1">S/E:</text>
<text x="195.7" y="150.0" font-size="5.8" text-anchor="middle" fill="#333" stroke="#333" stroke-width="0.1">0.877</text>
<text x="236.4" y="124.1" font-size="5.8" text-anchor="middle" fill="#333" stroke="#333" stroke-width="0.1">0.354</text>
<line x1="303.70" y1="209.40" x2="303.70" y2="124.26" stroke="#222" stroke-width="0.9"/>
<line x1="301.20" y1="209.40" x2="303.70" y2="209.40" stroke="#222" stroke-width="0.6"/>
<text x="297.7" y="211.15" font-size="5.7" text-anchor="end" fill="#333" stroke="#333" stroke-width="0.1">0%</text>
<line x1="301.20" y1="199.32" x2="303.70" y2="199.32" stroke="#222" stroke-width="0.6"/>
<text x="297.7" y="201.07" font-size="5.7" text-anchor="end" fill="#333" stroke="#333" stroke-width="0.1">2%</text>
<line x1="301.20" y1="189.24" x2="303.70" y2="189.24" stroke="#222" stroke-width="0.6"/>
<text x="297.7" y="190.99" font-size="5.7" text-anchor="end" fill="#333" stroke="#333" stroke-width="0.1">4%</text>
<line x1="301.20" y1="179.16" x2="303.70" y2="179.16" stroke="#222" stroke-width="0.6"/>
<text x="297.7" y="180.91" font-size="5.7" text-anchor="end" fill="#333" stroke="#333" stroke-width="0.1">6%</text>
<line x1="301.20" y1="169.08" x2="303.70" y2="169.08" stroke="#222" stroke-width="0.6"/>
<text x="297.7" y="170.83" font-size="5.7" text-anchor="end" fill="#333" stroke="#333" stroke-width="0.1">8%</text>
<line x1="301.20" y1="159.00" x2="303.70" y2="159.00" stroke="#222" stroke-width="0.6"/>
<text x="297.7" y="160.75" font-size="5.7" text-anchor="end" fill="#333" stroke="#333" stroke-width="0.1">10%</text>
<line x1="301.20" y1="148.92" x2="303.70" y2="148.92" stroke="#222" stroke-width="0.6"/>
<text x="297.7" y="150.67000000000002" font-size="5.7" text-anchor="end" fill="#333" stroke="#333" stroke-width="0.1">12%</text>
<line x1="301.20" y1="138.84" x2="303.70" y2="138.84" stroke="#222" stroke-width="0.6"/>
<text x="297.7" y="140.59" font-size="5.7" text-anchor="end" fill="#333" stroke="#333" stroke-width="0.1">14%</text>
<line x1="301.20" y1="128.76" x2="303.70" y2="128.76" stroke="#222" stroke-width="0.6"/>
<text x="297.7" y="130.51" font-size="5.7" text-anchor="end" fill="#333" stroke="#333" stroke-width="0.1">16%</text>
<line x1="303.25" y1="209.40" x2="389.00" y2="209.40" stroke="#222" stroke-width="1.15"/>
<line x1="314.20" y1="209.40" x2="314.20" y2="211.90" stroke="#222" stroke-width="0.6"/>
<line x1="335.00" y1="209.40" x2="335.00" y2="211.90" stroke="#222" stroke-width="0.6"/>
<line x1="355.80" y1="209.40" x2="355.80" y2="211.90" stroke="#222" stroke-width="0.6"/>
<line x1="376.50" y1="209.40" x2="376.50" y2="211.90" stroke="#222" stroke-width="0.6"/>
<rect x="328.85" y="157.30" width="12.30" height="2.70" fill="#c9772c"/>
<rect x="328.85" y="160.00" width="12.30" height="4.00" fill="#d5975a"/>
<rect x="328.85" y="164.00" width="12.30" height="21.80" fill="#e0ae7d"/>
<rect x="328.85" y="185.80" width="12.30" height="23.10" fill="#f3ddc8"/>
<rect x="370.35" y="163.40" width="12.30" height="1.80" fill="#ca7e3c"/>
<rect x="370.35" y="165.20" width="12.30" height="2.60" fill="#d6985a"/>
<rect x="370.35" y="167.80" width="12.30" height="15.10" fill="#e0ae7d"/>
<rect x="370.35" y="182.90" width="12.30" height="26.00" fill="#f3ddc8"/>
<text x="314.5" y="218.20000000000002" font-size="6.0" text-anchor="end" fill="#333" stroke="#333" stroke-width="0.1" transform="rotate(-45 314.5 218.20000000000002)">CD4+</text>
<text x="320.5" y="222.5" font-size="6.0" text-anchor="end" fill="#333" stroke="#333" stroke-width="0.1" transform="rotate(-45 320.5 222.5)">Control</text>
<text x="335.3" y="218.20000000000002" font-size="6.0" text-anchor="end" fill="#333" stroke="#333" stroke-width="0.1" transform="rotate(-45 335.3 218.20000000000002)">CD4+</text>
<text x="341.3" y="222.5" font-size="6.0" text-anchor="end" fill="#333" stroke="#333" stroke-width="0.1" transform="rotate(-45 341.3 222.5)">Stim</text>
<text x="356.1" y="218.20000000000002" font-size="6.0" text-anchor="end" fill="#333" stroke="#333" stroke-width="0.1" transform="rotate(-45 356.1 218.20000000000002)">CD8+</text>
<text x="362.1" y="222.5" font-size="6.0" text-anchor="end" fill="#333" stroke="#333" stroke-width="0.1" transform="rotate(-45 362.1 222.5)">Control</text>
<text x="376.8" y="218.20000000000002" font-size="6.0" text-anchor="end" fill="#333" stroke="#333" stroke-width="0.1" transform="rotate(-45 376.8 218.20000000000002)">CD8+</text>
<text x="382.8" y="222.5" font-size="6.0" text-anchor="end" fill="#333" stroke="#333" stroke-width="0.1" transform="rotate(-45 382.8 222.5)">Stim</text>
<text x="279.7" y="169.7" font-size="6.0" text-anchor="middle" fill="#222" stroke="#222" stroke-width="0.1" transform="rotate(-90 279.7 169.7)" textLength="77" lengthAdjust="spacingAndGlyphs">Polyfunctionality (% of sample)</text>
<line x1="425.80" y1="209.40" x2="425.80" y2="123.28" stroke="#222" stroke-width="0.9"/>
<line x1="423.30" y1="209.40" x2="425.80" y2="209.40" stroke="#222" stroke-width="0.6"/>
<text x="419.8" y="211.15" font-size="5.7" text-anchor="end" fill="#333" stroke="#333" stroke-width="0.1">0</text>
<line x1="423.30" y1="201.17" x2="425.80" y2="201.17" stroke="#222" stroke-width="0.6"/>
<text x="419.8" y="202.918" font-size="5.7" text-anchor="end" fill="#333" stroke="#333" stroke-width="0.1">40</text>
<line x1="423.30" y1="192.94" x2="425.80" y2="192.94" stroke="#222" stroke-width="0.6"/>
<text x="419.8" y="194.686" font-size="5.7" text-anchor="end" fill="#333" stroke="#333" stroke-width="0.1">80</text>
<line x1="423.30" y1="184.70" x2="425.80" y2="184.70" stroke="#222" stroke-width="0.6"/>
<text x="419.8" y="186.454" font-size="5.7" text-anchor="end" fill="#333" stroke="#333" stroke-width="0.1">120</text>
<line x1="423.30" y1="176.47" x2="425.80" y2="176.47" stroke="#222" stroke-width="0.6"/>
<text x="419.8" y="178.222" font-size="5.7" text-anchor="end" fill="#333" stroke="#333" stroke-width="0.1">160</text>
<line x1="423.30" y1="168.24" x2="425.80" y2="168.24" stroke="#222" stroke-width="0.6"/>
<text x="419.8" y="169.99" font-size="5.7" text-anchor="end" fill="#333" stroke="#333" stroke-width="0.1">200</text>
<line x1="423.30" y1="160.01" x2="425.80" y2="160.01" stroke="#222" stroke-width="0.6"/>
<text x="419.8" y="161.758" font-size="5.7" text-anchor="end" fill="#333" stroke="#333" stroke-width="0.1">240</text>
<line x1="423.30" y1="151.78" x2="425.80" y2="151.78" stroke="#222" stroke-width="0.6"/>
<text x="419.8" y="153.526" font-size="5.7" text-anchor="end" fill="#333" stroke="#333" stroke-width="0.1">280</text>
<line x1="423.30" y1="143.54" x2="425.80" y2="143.54" stroke="#222" stroke-width="0.6"/>
<text x="419.8" y="145.29399999999998" font-size="5.7" text-anchor="end" fill="#333" stroke="#333" stroke-width="0.1">320</text>
<line x1="423.30" y1="135.31" x2="425.80" y2="135.31" stroke="#222" stroke-width="0.6"/>
<text x="419.8" y="137.062" font-size="5.7" text-anchor="end" fill="#333" stroke="#333" stroke-width="0.1">360</text>
<line x1="423.30" y1="127.08" x2="425.80" y2="127.08" stroke="#222" stroke-width="0.6"/>
<text x="419.8" y="128.82999999999998" font-size="5.7" text-anchor="end" fill="#333" stroke="#333" stroke-width="0.1">400</text>
<line x1="425.35" y1="209.40" x2="511.00" y2="209.40" stroke="#222" stroke-width="1.15"/>
<line x1="436.10" y1="209.40" x2="436.10" y2="211.90" stroke="#222" stroke-width="0.6"/>
<line x1="456.80" y1="209.40" x2="456.80" y2="211.90" stroke="#222" stroke-width="0.6"/>
<line x1="477.30" y1="209.40" x2="477.30" y2="211.90" stroke="#222" stroke-width="0.6"/>
<line x1="498.50" y1="209.40" x2="498.50" y2="211.90" stroke="#222" stroke-width="0.6"/>
<rect x="450.65" y="165.40" width="12.30" height="1.90" fill="#9682c6"/>
<rect x="450.65" y="167.30" width="12.30" height="21.90" fill="#33a9e0"/>
<rect x="450.65" y="189.20" width="12.30" height="19.70" fill="#aabb7e"/>
<rect x="492.35" y="172.30" width="12.30" height="7.80" fill="#9682c6"/>
<rect x="492.35" y="180.10" width="12.30" height="6.50" fill="#33a9e0"/>
<rect x="492.35" y="186.60" width="12.30" height="22.30" fill="#aabb7e"/>
<text x="436.40000000000003" y="218.20000000000002" font-size="6.0" text-anchor="end" fill="#333" stroke="#333" stroke-width="0.1" transform="rotate(-45 436.40000000000003 218.20000000000002)">CD4+</text>
<text x="442.40000000000003" y="222.5" font-size="6.0" text-anchor="end" fill="#333" stroke="#333" stroke-width="0.1" transform="rotate(-45 442.40000000000003 222.5)">Control</text>
<text x="457.1" y="218.20000000000002" font-size="6.0" text-anchor="end" fill="#333" stroke="#333" stroke-width="0.1" transform="rotate(-45 457.1 218.20000000000002)">CD4+</text>
<text x="463.1" y="222.5" font-size="6.0" text-anchor="end" fill="#333" stroke="#333" stroke-width="0.1" transform="rotate(-45 463.1 222.5)">Stim</text>
<text x="477.6" y="218.20000000000002" font-size="6.0" text-anchor="end" fill="#333" stroke="#333" stroke-width="0.1" transform="rotate(-45 477.6 218.20000000000002)">CD8+</text>
<text x="483.6" y="222.5" font-size="6.0" text-anchor="end" fill="#333" stroke="#333" stroke-width="0.1" transform="rotate(-45 483.6 222.5)">Control</text>
<text x="498.8" y="218.20000000000002" font-size="6.0" text-anchor="end" fill="#333" stroke="#333" stroke-width="0.1" transform="rotate(-45 498.8 218.20000000000002)">CD8+</text>
<text x="504.8" y="222.5" font-size="6.0" text-anchor="end" fill="#333" stroke="#333" stroke-width="0.1" transform="rotate(-45 504.8 222.5)">Stim</text>
<text x="404.0" y="168.7" font-size="6.0" text-anchor="middle" fill="#222" stroke="#222" stroke-width="0.1" transform="rotate(-90 404.0 168.7)" textLength="72" lengthAdjust="spacingAndGlyphs">Polyfunctional strength index</text>
<text x="430.5" y="162.8" font-size="5.8" text-anchor="start" fill="#333" stroke="#333" stroke-width="0.1">S/E:</text>
<text x="457.0" y="162.8" font-size="5.8" text-anchor="middle" fill="#333" stroke="#333" stroke-width="0.1">1.007</text>
<text x="498.0" y="169.5" font-size="5.8" text-anchor="middle" fill="#333" stroke="#333" stroke-width="0.1">0.279</text>
<rect x="47.90" y="246.50" width="5.00" height="5.00" fill="#f3ddc8"/>
<text x="56.0" y="250.6" font-size="6.0" text-anchor="start" fill="#333" stroke="#333" stroke-width="0.1" textLength="25.2" lengthAdjust="spacingAndGlyphs">2 proteins</text>
<rect x="91.00" y="246.50" width="5.00" height="5.00" fill="#e0ae7d"/>
<text x="99.1" y="250.6" font-size="6.0" text-anchor="start" fill="#333" stroke="#333" stroke-width="0.1" textLength="25.3" lengthAdjust="spacingAndGlyphs">3 proteins</text>
<rect x="133.80" y="246.50" width="5.00" height="5.00" fill="#d8914c"/>
<text x="142.6" y="250.6" font-size="6.0" text-anchor="start" fill="#333" stroke="#333" stroke-width="0.1" textLength="24.8" lengthAdjust="spacingAndGlyphs">4 proteins</text>
<rect x="177.00" y="246.50" width="5.00" height="5.00" fill="#c66e1e"/>
<text x="185.4" y="250.6" font-size="6.0" text-anchor="start" fill="#333" stroke="#333" stroke-width="0.1" textLength="29.3" lengthAdjust="spacingAndGlyphs">5+ proteins</text>
<rect x="292.30" y="246.00" width="5.00" height="5.00" fill="#aabb7e"/>
<text x="301.0" y="250.4" font-size="6.1" text-anchor="start" fill="#333" stroke="#333" stroke-width="0.1" textLength="18.8" lengthAdjust="spacingAndGlyphs">Effector</text>
<text x="301.0" y="257.8" font-size="6.1" text-anchor="start" fill="#333" stroke="#333" stroke-width="0.1" textLength="66.0" lengthAdjust="spacingAndGlyphs">Granzyme B, IFN-g, TNF-a</text>
<rect x="383.10" y="246.00" width="5.00" height="5.00" fill="#33a9e0"/>
<text x="392.4" y="250.4" font-size="6.1" text-anchor="start" fill="#333" stroke="#333" stroke-width="0.1" textLength="27.7" lengthAdjust="spacingAndGlyphs">Stimulatory</text>
<text x="392.4" y="257.8" font-size="6.1" text-anchor="start" fill="#333" stroke="#333" stroke-width="0.1" textLength="35.3" lengthAdjust="spacingAndGlyphs">GM-CSF, IL-2</text>
<rect x="442.30" y="246.00" width="5.00" height="5.00" fill="#9682c6"/>
<text x="450.9" y="250.4" font-size="6.1" text-anchor="start" fill="#333" stroke="#333" stroke-width="0.1" textLength="41.5" lengthAdjust="spacingAndGlyphs">Chemoattractive</text>
<text x="450.9" y="257.8" font-size="6.1" text-anchor="start" fill="#333" stroke="#333" stroke-width="0.1" textLength="17.9" lengthAdjust="spacingAndGlyphs">MIP-1b</text>
<text x="449.0" y="270.8" font-size="6.0" text-anchor="start" fill="#333" stroke="#333" stroke-width="0.1" textLength="64.6" lengthAdjust="spacingAndGlyphs">S/E: Stimulatory/Effector</text>
<rect x="0" y="0" width="520" height="1.1" fill="#505050"/><rect x="0" y="0" width="1.2" height="278" fill="#5a5a5a"/><rect x="518.6" y="0" width="1.4" height="278" fill="#454545"/><rect x="0" y="276.7" width="520" height="1.3" fill="#454545"/>
</svg>
</body></html>
